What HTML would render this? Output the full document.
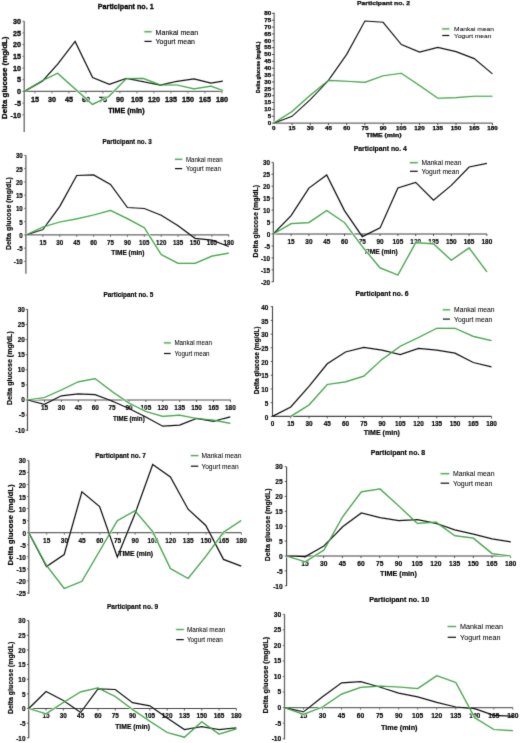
<!DOCTYPE html>
<html><head><meta charset="utf-8"><style>
html,body{margin:0;padding:0;background:#fff;width:520px;height:743px;overflow:hidden}
svg{display:block}
text{font-family:"Liberation Sans",sans-serif}
</style></head><body>
<svg width="520" height="743" viewBox="0 0 520 743">
<defs><filter id="bl" x="0" y="0" width="520" height="743" filterUnits="userSpaceOnUse"><feConvolveMatrix order="3" kernelMatrix="0.02 0.12 0.02 0.12 1 0.12 0.02 0.12 0.02" divisor="1.56" preserveAlpha="false" edgeMode="duplicate"/></filter></defs>
<rect width="520" height="743" fill="#fff"/>
<g filter="url(#bl)">
<text x="97.80" y="9.06" font-size="8" font-weight="bold" text-anchor="start" fill="#000000" stroke="#000000" stroke-width="0.32" textLength="55.90" lengthAdjust="spacingAndGlyphs">Participant no. 1</text>
<line x1="24.20" y1="21.30" x2="24.20" y2="132.00" stroke="#666666" stroke-width="1.3"/>
<line x1="22.40" y1="21.20" x2="24.20" y2="21.20" stroke="#666666" stroke-width="0.9"/>
<text x="21.00" y="23.96" font-size="8.0" font-weight="bold" text-anchor="end" fill="#000000" stroke="#000000" stroke-width="0.32" textLength="8.01" lengthAdjust="spacingAndGlyphs">30</text>
<line x1="22.40" y1="32.90" x2="24.20" y2="32.90" stroke="#666666" stroke-width="0.9"/>
<text x="21.00" y="35.66" font-size="8.0" font-weight="bold" text-anchor="end" fill="#000000" stroke="#000000" stroke-width="0.32" textLength="8.01" lengthAdjust="spacingAndGlyphs">25</text>
<line x1="22.40" y1="44.60" x2="24.20" y2="44.60" stroke="#666666" stroke-width="0.9"/>
<text x="21.00" y="47.36" font-size="8.0" font-weight="bold" text-anchor="end" fill="#000000" stroke="#000000" stroke-width="0.32" textLength="8.01" lengthAdjust="spacingAndGlyphs">20</text>
<line x1="22.40" y1="56.30" x2="24.20" y2="56.30" stroke="#666666" stroke-width="0.9"/>
<text x="21.00" y="59.06" font-size="8.0" font-weight="bold" text-anchor="end" fill="#000000" stroke="#000000" stroke-width="0.32" textLength="8.01" lengthAdjust="spacingAndGlyphs">15</text>
<line x1="22.40" y1="68.00" x2="24.20" y2="68.00" stroke="#666666" stroke-width="0.9"/>
<text x="21.00" y="70.76" font-size="8.0" font-weight="bold" text-anchor="end" fill="#000000" stroke="#000000" stroke-width="0.32" textLength="8.01" lengthAdjust="spacingAndGlyphs">10</text>
<line x1="22.40" y1="79.70" x2="24.20" y2="79.70" stroke="#666666" stroke-width="0.9"/>
<text x="21.00" y="82.46" font-size="8.0" font-weight="bold" text-anchor="end" fill="#000000" stroke="#000000" stroke-width="0.32" textLength="4.00" lengthAdjust="spacingAndGlyphs">5</text>
<line x1="22.40" y1="91.40" x2="24.20" y2="91.40" stroke="#666666" stroke-width="0.9"/>
<text x="21.00" y="94.16" font-size="8.0" font-weight="bold" text-anchor="end" fill="#000000" stroke="#000000" stroke-width="0.32" textLength="4.00" lengthAdjust="spacingAndGlyphs">0</text>
<line x1="22.40" y1="103.10" x2="24.20" y2="103.10" stroke="#666666" stroke-width="0.9"/>
<text x="21.00" y="105.86" font-size="8.0" font-weight="bold" text-anchor="end" fill="#000000" stroke="#000000" stroke-width="0.32" textLength="6.40" lengthAdjust="spacingAndGlyphs">-5</text>
<line x1="22.40" y1="114.80" x2="24.20" y2="114.80" stroke="#666666" stroke-width="0.9"/>
<text x="21.00" y="117.56" font-size="8.0" font-weight="bold" text-anchor="end" fill="#000000" stroke="#000000" stroke-width="0.32" textLength="10.41" lengthAdjust="spacingAndGlyphs">-10</text>
<line x1="24.20" y1="91.40" x2="222.80" y2="91.40" stroke="#666666" stroke-width="1.3"/>
<line x1="34.90" y1="91.40" x2="34.90" y2="93.40" stroke="#666666" stroke-width="0.9"/>
<text x="34.90" y="101.86" font-size="8.0" font-weight="bold" text-anchor="middle" fill="#000000" stroke="#000000" stroke-width="0.32" textLength="8.01" lengthAdjust="spacingAndGlyphs">15</text>
<line x1="51.90" y1="91.40" x2="51.90" y2="93.40" stroke="#666666" stroke-width="0.9"/>
<text x="51.90" y="101.86" font-size="8.0" font-weight="bold" text-anchor="middle" fill="#000000" stroke="#000000" stroke-width="0.32" textLength="8.01" lengthAdjust="spacingAndGlyphs">30</text>
<line x1="68.90" y1="91.40" x2="68.90" y2="93.40" stroke="#666666" stroke-width="0.9"/>
<text x="68.90" y="101.86" font-size="8.0" font-weight="bold" text-anchor="middle" fill="#000000" stroke="#000000" stroke-width="0.32" textLength="8.01" lengthAdjust="spacingAndGlyphs">45</text>
<line x1="85.90" y1="91.40" x2="85.90" y2="93.40" stroke="#666666" stroke-width="0.9"/>
<text x="85.90" y="101.86" font-size="8.0" font-weight="bold" text-anchor="middle" fill="#000000" stroke="#000000" stroke-width="0.32" textLength="8.01" lengthAdjust="spacingAndGlyphs">60</text>
<line x1="102.90" y1="91.40" x2="102.90" y2="93.40" stroke="#666666" stroke-width="0.9"/>
<text x="102.90" y="101.86" font-size="8.0" font-weight="bold" text-anchor="middle" fill="#000000" stroke="#000000" stroke-width="0.32" textLength="8.01" lengthAdjust="spacingAndGlyphs">75</text>
<line x1="119.90" y1="91.40" x2="119.90" y2="93.40" stroke="#666666" stroke-width="0.9"/>
<text x="119.90" y="101.86" font-size="8.0" font-weight="bold" text-anchor="middle" fill="#000000" stroke="#000000" stroke-width="0.32" textLength="8.01" lengthAdjust="spacingAndGlyphs">90</text>
<line x1="136.90" y1="91.40" x2="136.90" y2="93.40" stroke="#666666" stroke-width="0.9"/>
<text x="136.90" y="101.86" font-size="8.0" font-weight="bold" text-anchor="middle" fill="#000000" stroke="#000000" stroke-width="0.32" textLength="12.01" lengthAdjust="spacingAndGlyphs">105</text>
<line x1="153.90" y1="91.40" x2="153.90" y2="93.40" stroke="#666666" stroke-width="0.9"/>
<text x="153.90" y="101.86" font-size="8.0" font-weight="bold" text-anchor="middle" fill="#000000" stroke="#000000" stroke-width="0.32" textLength="12.01" lengthAdjust="spacingAndGlyphs">120</text>
<line x1="170.90" y1="91.40" x2="170.90" y2="93.40" stroke="#666666" stroke-width="0.9"/>
<text x="170.90" y="101.86" font-size="8.0" font-weight="bold" text-anchor="middle" fill="#000000" stroke="#000000" stroke-width="0.32" textLength="12.01" lengthAdjust="spacingAndGlyphs">135</text>
<line x1="187.90" y1="91.40" x2="187.90" y2="93.40" stroke="#666666" stroke-width="0.9"/>
<text x="187.90" y="101.86" font-size="8.0" font-weight="bold" text-anchor="middle" fill="#000000" stroke="#000000" stroke-width="0.32" textLength="12.01" lengthAdjust="spacingAndGlyphs">150</text>
<line x1="204.90" y1="91.40" x2="204.90" y2="93.40" stroke="#666666" stroke-width="0.9"/>
<text x="204.90" y="101.86" font-size="8.0" font-weight="bold" text-anchor="middle" fill="#000000" stroke="#000000" stroke-width="0.32" textLength="12.01" lengthAdjust="spacingAndGlyphs">165</text>
<line x1="221.90" y1="91.40" x2="221.90" y2="93.40" stroke="#666666" stroke-width="0.9"/>
<text x="221.90" y="101.86" font-size="8.0" font-weight="bold" text-anchor="middle" fill="#000000" stroke="#000000" stroke-width="0.32" textLength="12.01" lengthAdjust="spacingAndGlyphs">180</text>
<text x="108.20" y="112.62" font-size="7.6" font-weight="bold" text-anchor="start" fill="#000000" stroke="#000000" stroke-width="0.32" textLength="36.40" lengthAdjust="spacingAndGlyphs">TIME (min)</text>
<text transform="translate(6.80,77.75) rotate(-90)" x="0" y="0" font-size="8" font-weight="bold" text-anchor="middle" fill="#000000" stroke="#000000" stroke-width="0.32" textLength="82.30" lengthAdjust="spacingAndGlyphs">Delta glucose (mg/dL)</text>
<line x1="143.60" y1="31.75" x2="152.50" y2="31.75" stroke="#e6f7e6" stroke-width="3.2"/>
<line x1="144.40" y1="31.75" x2="151.70" y2="31.75" stroke="#38a040" stroke-width="1.2"/>
<line x1="144.40" y1="41.40" x2="151.70" y2="41.40" stroke="#111111" stroke-width="1.2"/>
<text x="155.60" y="34.54" font-size="8.1" font-weight="normal" text-anchor="start" fill="#000000" stroke="#000000" stroke-width="0.12" textLength="42.50" lengthAdjust="spacingAndGlyphs">Mankai mean</text>
<text x="155.60" y="44.19" font-size="8.1" font-weight="normal" text-anchor="start" fill="#000000" stroke="#000000" stroke-width="0.12" textLength="39.40" lengthAdjust="spacingAndGlyphs">Yogurt mean</text>
<polyline points="24.40,91.40 42.60,80.50 57.60,73.30 92.50,104.40 108.80,96.50 126.40,78.60 143.10,78.30 160.20,84.80 177.00,85.00 194.00,88.90 211.00,86.20 222.80,90.50" fill="none" stroke="#e6f7e6" stroke-width="2.4" stroke-linejoin="miter" stroke-miterlimit="3"/>
<polyline points="24.40,91.40 42.60,80.90 57.70,64.20 75.10,41.40 92.60,77.50 109.40,84.30 126.40,78.30 143.10,81.60 160.20,85.10 177.00,81.40 194.00,79.00 211.00,83.10 222.80,81.20" fill="none" stroke="#111111" stroke-width="1.25" stroke-linejoin="miter" stroke-miterlimit="3"/>
<polyline points="24.40,91.40 42.60,80.50 57.60,73.30 92.50,104.40 108.80,96.50 126.40,78.60 143.10,78.30 160.20,84.80 177.00,85.00 194.00,88.90 211.00,86.20 222.80,90.50" fill="none" stroke="#38a040" stroke-width="1.25" stroke-linejoin="miter" stroke-miterlimit="3"/>
<text x="357.00" y="5.37" font-size="6" font-weight="bold" text-anchor="start" fill="#000000" stroke="#000000" stroke-width="0.25" textLength="53.00" lengthAdjust="spacingAndGlyphs">Participant no. 2</text>
<line x1="274.10" y1="12.70" x2="274.10" y2="123.10" stroke="#333333" stroke-width="0.9"/>
<line x1="272.10" y1="13.34" x2="274.10" y2="13.34" stroke="#333333" stroke-width="0.9"/>
<text x="271.20" y="15.13" font-size="5.2" font-weight="bold" text-anchor="end" fill="#000000" stroke="#000000" stroke-width="0.25" textLength="6.94" lengthAdjust="spacingAndGlyphs">80</text>
<line x1="272.10" y1="20.20" x2="274.10" y2="20.20" stroke="#333333" stroke-width="0.9"/>
<text x="271.20" y="21.99" font-size="5.2" font-weight="bold" text-anchor="end" fill="#000000" stroke="#000000" stroke-width="0.25" textLength="6.94" lengthAdjust="spacingAndGlyphs">75</text>
<line x1="272.10" y1="27.06" x2="274.10" y2="27.06" stroke="#333333" stroke-width="0.9"/>
<text x="271.20" y="28.85" font-size="5.2" font-weight="bold" text-anchor="end" fill="#000000" stroke="#000000" stroke-width="0.25" textLength="6.94" lengthAdjust="spacingAndGlyphs">70</text>
<line x1="272.10" y1="33.92" x2="274.10" y2="33.92" stroke="#333333" stroke-width="0.9"/>
<text x="271.20" y="35.71" font-size="5.2" font-weight="bold" text-anchor="end" fill="#000000" stroke="#000000" stroke-width="0.25" textLength="6.94" lengthAdjust="spacingAndGlyphs">65</text>
<line x1="272.10" y1="40.78" x2="274.10" y2="40.78" stroke="#333333" stroke-width="0.9"/>
<text x="271.20" y="42.57" font-size="5.2" font-weight="bold" text-anchor="end" fill="#000000" stroke="#000000" stroke-width="0.25" textLength="6.94" lengthAdjust="spacingAndGlyphs">60</text>
<line x1="272.10" y1="47.64" x2="274.10" y2="47.64" stroke="#333333" stroke-width="0.9"/>
<text x="271.20" y="49.43" font-size="5.2" font-weight="bold" text-anchor="end" fill="#000000" stroke="#000000" stroke-width="0.25" textLength="6.94" lengthAdjust="spacingAndGlyphs">55</text>
<line x1="272.10" y1="54.50" x2="274.10" y2="54.50" stroke="#333333" stroke-width="0.9"/>
<text x="271.20" y="56.29" font-size="5.2" font-weight="bold" text-anchor="end" fill="#000000" stroke="#000000" stroke-width="0.25" textLength="6.94" lengthAdjust="spacingAndGlyphs">50</text>
<line x1="272.10" y1="61.36" x2="274.10" y2="61.36" stroke="#333333" stroke-width="0.9"/>
<text x="271.20" y="63.15" font-size="5.2" font-weight="bold" text-anchor="end" fill="#000000" stroke="#000000" stroke-width="0.25" textLength="6.94" lengthAdjust="spacingAndGlyphs">45</text>
<line x1="272.10" y1="68.22" x2="274.10" y2="68.22" stroke="#333333" stroke-width="0.9"/>
<text x="271.20" y="70.01" font-size="5.2" font-weight="bold" text-anchor="end" fill="#000000" stroke="#000000" stroke-width="0.25" textLength="6.94" lengthAdjust="spacingAndGlyphs">40</text>
<line x1="272.10" y1="75.08" x2="274.10" y2="75.08" stroke="#333333" stroke-width="0.9"/>
<text x="271.20" y="76.87" font-size="5.2" font-weight="bold" text-anchor="end" fill="#000000" stroke="#000000" stroke-width="0.25" textLength="6.94" lengthAdjust="spacingAndGlyphs">35</text>
<line x1="272.10" y1="81.94" x2="274.10" y2="81.94" stroke="#333333" stroke-width="0.9"/>
<text x="271.20" y="83.73" font-size="5.2" font-weight="bold" text-anchor="end" fill="#000000" stroke="#000000" stroke-width="0.25" textLength="6.94" lengthAdjust="spacingAndGlyphs">30</text>
<line x1="272.10" y1="88.80" x2="274.10" y2="88.80" stroke="#333333" stroke-width="0.9"/>
<text x="271.20" y="90.59" font-size="5.2" font-weight="bold" text-anchor="end" fill="#000000" stroke="#000000" stroke-width="0.25" textLength="6.94" lengthAdjust="spacingAndGlyphs">25</text>
<line x1="272.10" y1="95.66" x2="274.10" y2="95.66" stroke="#333333" stroke-width="0.9"/>
<text x="271.20" y="97.45" font-size="5.2" font-weight="bold" text-anchor="end" fill="#000000" stroke="#000000" stroke-width="0.25" textLength="6.94" lengthAdjust="spacingAndGlyphs">20</text>
<line x1="272.10" y1="102.52" x2="274.10" y2="102.52" stroke="#333333" stroke-width="0.9"/>
<text x="271.20" y="104.31" font-size="5.2" font-weight="bold" text-anchor="end" fill="#000000" stroke="#000000" stroke-width="0.25" textLength="6.94" lengthAdjust="spacingAndGlyphs">15</text>
<line x1="272.10" y1="109.38" x2="274.10" y2="109.38" stroke="#333333" stroke-width="0.9"/>
<text x="271.20" y="111.17" font-size="5.2" font-weight="bold" text-anchor="end" fill="#000000" stroke="#000000" stroke-width="0.25" textLength="6.94" lengthAdjust="spacingAndGlyphs">10</text>
<line x1="272.10" y1="116.24" x2="274.10" y2="116.24" stroke="#333333" stroke-width="0.9"/>
<text x="271.20" y="118.03" font-size="5.2" font-weight="bold" text-anchor="end" fill="#000000" stroke="#000000" stroke-width="0.25" textLength="3.47" lengthAdjust="spacingAndGlyphs">5</text>
<line x1="272.10" y1="123.10" x2="274.10" y2="123.10" stroke="#333333" stroke-width="0.9"/>
<text x="271.20" y="124.89" font-size="5.2" font-weight="bold" text-anchor="end" fill="#000000" stroke="#000000" stroke-width="0.25" textLength="3.47" lengthAdjust="spacingAndGlyphs">0</text>
<line x1="274.10" y1="123.10" x2="492.50" y2="123.10" stroke="#333333" stroke-width="0.9"/>
<text x="273.80" y="129.79" font-size="5.2" font-weight="bold" text-anchor="middle" fill="#000000" stroke="#000000" stroke-width="0.25" textLength="3.47" lengthAdjust="spacingAndGlyphs">0</text>
<line x1="292.02" y1="123.10" x2="292.02" y2="125.10" stroke="#333333" stroke-width="0.9"/>
<text x="292.02" y="129.79" font-size="5.2" font-weight="bold" text-anchor="middle" fill="#000000" stroke="#000000" stroke-width="0.25" textLength="6.94" lengthAdjust="spacingAndGlyphs">15</text>
<line x1="310.24" y1="123.10" x2="310.24" y2="125.10" stroke="#333333" stroke-width="0.9"/>
<text x="310.24" y="129.79" font-size="5.2" font-weight="bold" text-anchor="middle" fill="#000000" stroke="#000000" stroke-width="0.25" textLength="6.94" lengthAdjust="spacingAndGlyphs">30</text>
<line x1="328.46" y1="123.10" x2="328.46" y2="125.10" stroke="#333333" stroke-width="0.9"/>
<text x="328.46" y="129.79" font-size="5.2" font-weight="bold" text-anchor="middle" fill="#000000" stroke="#000000" stroke-width="0.25" textLength="6.94" lengthAdjust="spacingAndGlyphs">45</text>
<line x1="346.68" y1="123.10" x2="346.68" y2="125.10" stroke="#333333" stroke-width="0.9"/>
<text x="346.68" y="129.79" font-size="5.2" font-weight="bold" text-anchor="middle" fill="#000000" stroke="#000000" stroke-width="0.25" textLength="6.94" lengthAdjust="spacingAndGlyphs">60</text>
<line x1="364.90" y1="123.10" x2="364.90" y2="125.10" stroke="#333333" stroke-width="0.9"/>
<text x="364.90" y="129.79" font-size="5.2" font-weight="bold" text-anchor="middle" fill="#000000" stroke="#000000" stroke-width="0.25" textLength="6.94" lengthAdjust="spacingAndGlyphs">75</text>
<line x1="383.12" y1="123.10" x2="383.12" y2="125.10" stroke="#333333" stroke-width="0.9"/>
<text x="383.12" y="129.79" font-size="5.2" font-weight="bold" text-anchor="middle" fill="#000000" stroke="#000000" stroke-width="0.25" textLength="6.94" lengthAdjust="spacingAndGlyphs">90</text>
<line x1="401.34" y1="123.10" x2="401.34" y2="125.10" stroke="#333333" stroke-width="0.9"/>
<text x="401.34" y="129.79" font-size="5.2" font-weight="bold" text-anchor="middle" fill="#000000" stroke="#000000" stroke-width="0.25" textLength="10.41" lengthAdjust="spacingAndGlyphs">105</text>
<line x1="419.56" y1="123.10" x2="419.56" y2="125.10" stroke="#333333" stroke-width="0.9"/>
<text x="419.56" y="129.79" font-size="5.2" font-weight="bold" text-anchor="middle" fill="#000000" stroke="#000000" stroke-width="0.25" textLength="10.41" lengthAdjust="spacingAndGlyphs">120</text>
<line x1="437.78" y1="123.10" x2="437.78" y2="125.10" stroke="#333333" stroke-width="0.9"/>
<text x="437.78" y="129.79" font-size="5.2" font-weight="bold" text-anchor="middle" fill="#000000" stroke="#000000" stroke-width="0.25" textLength="10.41" lengthAdjust="spacingAndGlyphs">135</text>
<line x1="456.00" y1="123.10" x2="456.00" y2="125.10" stroke="#333333" stroke-width="0.9"/>
<text x="456.00" y="129.79" font-size="5.2" font-weight="bold" text-anchor="middle" fill="#000000" stroke="#000000" stroke-width="0.25" textLength="10.41" lengthAdjust="spacingAndGlyphs">150</text>
<line x1="474.22" y1="123.10" x2="474.22" y2="125.10" stroke="#333333" stroke-width="0.9"/>
<text x="474.22" y="129.79" font-size="5.2" font-weight="bold" text-anchor="middle" fill="#000000" stroke="#000000" stroke-width="0.25" textLength="10.41" lengthAdjust="spacingAndGlyphs">165</text>
<line x1="492.44" y1="123.10" x2="492.44" y2="125.10" stroke="#333333" stroke-width="0.9"/>
<text x="492.44" y="129.79" font-size="5.2" font-weight="bold" text-anchor="middle" fill="#000000" stroke="#000000" stroke-width="0.25" textLength="10.41" lengthAdjust="spacingAndGlyphs">180</text>
<text x="366.00" y="136.59" font-size="5.2" font-weight="bold" text-anchor="start" fill="#000000" stroke="#000000" stroke-width="0.25" textLength="35.50" lengthAdjust="spacingAndGlyphs">TIME (min)</text>
<text transform="translate(259.80,67.20) rotate(-90)" x="0" y="0" font-size="5.5" font-weight="bold" text-anchor="middle" fill="#000000" stroke="#000000" stroke-width="0.25" textLength="51.40" lengthAdjust="spacingAndGlyphs">Delta glucose (mg/dL)</text>
<line x1="441.40" y1="28.90" x2="450.10" y2="28.90" stroke="#e6f7e6" stroke-width="3.2"/>
<line x1="442.20" y1="28.90" x2="449.30" y2="28.90" stroke="#38a040" stroke-width="1.2"/>
<line x1="442.20" y1="35.50" x2="449.30" y2="35.50" stroke="#111111" stroke-width="1.2"/>
<text x="454.10" y="30.90" font-size="5.8" font-weight="normal" text-anchor="start" fill="#000000" stroke="#000000" stroke-width="0.05" textLength="39.90" lengthAdjust="spacingAndGlyphs">Mankai mean</text>
<text x="454.10" y="37.50" font-size="5.8" font-weight="normal" text-anchor="start" fill="#000000" stroke="#000000" stroke-width="0.05" textLength="37.30" lengthAdjust="spacingAndGlyphs">Yogurt mean</text>
<polyline points="273.80,123.10 292.02,111.50 310.24,95.20 328.46,80.40 346.68,81.20 364.90,82.30 383.12,75.80 401.34,73.30 419.56,85.50 437.78,98.20 456.00,97.60 474.22,96.20 492.44,96.20" fill="none" stroke="#e6f7e6" stroke-width="2.4" stroke-linejoin="miter" stroke-miterlimit="3"/>
<polyline points="273.80,123.10 292.02,116.30 310.24,99.60 328.46,80.40 346.68,54.40 364.90,21.00 383.12,22.30 401.34,44.60 419.56,52.10 437.78,47.40 456.00,51.60 474.22,58.60 492.44,73.90" fill="none" stroke="#111111" stroke-width="1.15" stroke-linejoin="miter" stroke-miterlimit="3"/>
<polyline points="273.80,123.10 292.02,111.50 310.24,95.20 328.46,80.40 346.68,81.20 364.90,82.30 383.12,75.80 401.34,73.30 419.56,85.50 437.78,98.20 456.00,97.60 474.22,96.20 492.44,96.20" fill="none" stroke="#38a040" stroke-width="1.15" stroke-linejoin="miter" stroke-miterlimit="3"/>
<text x="102.50" y="144.22" font-size="7" font-weight="bold" text-anchor="start" fill="#000000" stroke="#000000" stroke-width="0.18" textLength="49.20" lengthAdjust="spacingAndGlyphs">Participant no. 3</text>
<line x1="25.90" y1="155.20" x2="25.90" y2="273.75" stroke="#666666" stroke-width="1.3"/>
<line x1="24.10" y1="155.40" x2="25.90" y2="155.40" stroke="#666666" stroke-width="0.9"/>
<text x="22.80" y="158.28" font-size="6.9" font-weight="bold" text-anchor="end" fill="#000000" stroke="#000000" stroke-width="0.18" textLength="6.91" lengthAdjust="spacingAndGlyphs">30</text>
<line x1="24.10" y1="168.65" x2="25.90" y2="168.65" stroke="#666666" stroke-width="0.9"/>
<text x="22.80" y="171.53" font-size="6.9" font-weight="bold" text-anchor="end" fill="#000000" stroke="#000000" stroke-width="0.18" textLength="6.91" lengthAdjust="spacingAndGlyphs">25</text>
<line x1="24.10" y1="181.90" x2="25.90" y2="181.90" stroke="#666666" stroke-width="0.9"/>
<text x="22.80" y="184.78" font-size="6.9" font-weight="bold" text-anchor="end" fill="#000000" stroke="#000000" stroke-width="0.18" textLength="6.91" lengthAdjust="spacingAndGlyphs">20</text>
<line x1="24.10" y1="195.15" x2="25.90" y2="195.15" stroke="#666666" stroke-width="0.9"/>
<text x="22.80" y="198.03" font-size="6.9" font-weight="bold" text-anchor="end" fill="#000000" stroke="#000000" stroke-width="0.18" textLength="6.91" lengthAdjust="spacingAndGlyphs">15</text>
<line x1="24.10" y1="208.40" x2="25.90" y2="208.40" stroke="#666666" stroke-width="0.9"/>
<text x="22.80" y="211.28" font-size="6.9" font-weight="bold" text-anchor="end" fill="#000000" stroke="#000000" stroke-width="0.18" textLength="6.91" lengthAdjust="spacingAndGlyphs">10</text>
<line x1="24.10" y1="221.65" x2="25.90" y2="221.65" stroke="#666666" stroke-width="0.9"/>
<text x="22.80" y="224.53" font-size="6.9" font-weight="bold" text-anchor="end" fill="#000000" stroke="#000000" stroke-width="0.18" textLength="3.45" lengthAdjust="spacingAndGlyphs">5</text>
<line x1="24.10" y1="234.90" x2="25.90" y2="234.90" stroke="#666666" stroke-width="0.9"/>
<text x="22.80" y="237.78" font-size="6.9" font-weight="bold" text-anchor="end" fill="#000000" stroke="#000000" stroke-width="0.18" textLength="3.45" lengthAdjust="spacingAndGlyphs">0</text>
<line x1="24.10" y1="248.15" x2="25.90" y2="248.15" stroke="#666666" stroke-width="0.9"/>
<text x="22.80" y="251.03" font-size="6.9" font-weight="bold" text-anchor="end" fill="#000000" stroke="#000000" stroke-width="0.18" textLength="5.52" lengthAdjust="spacingAndGlyphs">-5</text>
<line x1="24.10" y1="261.40" x2="25.90" y2="261.40" stroke="#666666" stroke-width="0.9"/>
<text x="22.80" y="264.28" font-size="6.9" font-weight="bold" text-anchor="end" fill="#000000" stroke="#000000" stroke-width="0.18" textLength="8.97" lengthAdjust="spacingAndGlyphs">-10</text>
<line x1="25.90" y1="234.90" x2="229.00" y2="234.90" stroke="#666666" stroke-width="1.3"/>
<line x1="42.90" y1="234.90" x2="42.90" y2="236.90" stroke="#666666" stroke-width="0.9"/>
<text x="42.90" y="244.58" font-size="6.9" font-weight="bold" text-anchor="middle" fill="#000000" stroke="#000000" stroke-width="0.18" textLength="6.91" lengthAdjust="spacingAndGlyphs">15</text>
<line x1="59.80" y1="234.90" x2="59.80" y2="236.90" stroke="#666666" stroke-width="0.9"/>
<text x="59.80" y="244.58" font-size="6.9" font-weight="bold" text-anchor="middle" fill="#000000" stroke="#000000" stroke-width="0.18" textLength="6.91" lengthAdjust="spacingAndGlyphs">30</text>
<line x1="76.70" y1="234.90" x2="76.70" y2="236.90" stroke="#666666" stroke-width="0.9"/>
<text x="76.70" y="244.58" font-size="6.9" font-weight="bold" text-anchor="middle" fill="#000000" stroke="#000000" stroke-width="0.18" textLength="6.91" lengthAdjust="spacingAndGlyphs">45</text>
<line x1="93.60" y1="234.90" x2="93.60" y2="236.90" stroke="#666666" stroke-width="0.9"/>
<text x="93.60" y="244.58" font-size="6.9" font-weight="bold" text-anchor="middle" fill="#000000" stroke="#000000" stroke-width="0.18" textLength="6.91" lengthAdjust="spacingAndGlyphs">60</text>
<line x1="110.50" y1="234.90" x2="110.50" y2="236.90" stroke="#666666" stroke-width="0.9"/>
<text x="110.50" y="244.58" font-size="6.9" font-weight="bold" text-anchor="middle" fill="#000000" stroke="#000000" stroke-width="0.18" textLength="6.91" lengthAdjust="spacingAndGlyphs">75</text>
<line x1="127.40" y1="234.90" x2="127.40" y2="236.90" stroke="#666666" stroke-width="0.9"/>
<text x="127.40" y="244.58" font-size="6.9" font-weight="bold" text-anchor="middle" fill="#000000" stroke="#000000" stroke-width="0.18" textLength="6.91" lengthAdjust="spacingAndGlyphs">90</text>
<line x1="144.30" y1="234.90" x2="144.30" y2="236.90" stroke="#666666" stroke-width="0.9"/>
<text x="144.30" y="244.58" font-size="6.9" font-weight="bold" text-anchor="middle" fill="#000000" stroke="#000000" stroke-width="0.18" textLength="10.36" lengthAdjust="spacingAndGlyphs">105</text>
<line x1="161.20" y1="234.90" x2="161.20" y2="236.90" stroke="#666666" stroke-width="0.9"/>
<text x="161.20" y="244.58" font-size="6.9" font-weight="bold" text-anchor="middle" fill="#000000" stroke="#000000" stroke-width="0.18" textLength="10.36" lengthAdjust="spacingAndGlyphs">120</text>
<line x1="178.10" y1="234.90" x2="178.10" y2="236.90" stroke="#666666" stroke-width="0.9"/>
<text x="178.10" y="244.58" font-size="6.9" font-weight="bold" text-anchor="middle" fill="#000000" stroke="#000000" stroke-width="0.18" textLength="10.36" lengthAdjust="spacingAndGlyphs">135</text>
<line x1="195.00" y1="234.90" x2="195.00" y2="236.90" stroke="#666666" stroke-width="0.9"/>
<text x="195.00" y="244.58" font-size="6.9" font-weight="bold" text-anchor="middle" fill="#000000" stroke="#000000" stroke-width="0.18" textLength="10.36" lengthAdjust="spacingAndGlyphs">150</text>
<line x1="211.90" y1="234.90" x2="211.90" y2="236.90" stroke="#666666" stroke-width="0.9"/>
<text x="211.90" y="244.58" font-size="6.9" font-weight="bold" text-anchor="middle" fill="#000000" stroke="#000000" stroke-width="0.18" textLength="10.36" lengthAdjust="spacingAndGlyphs">165</text>
<line x1="228.80" y1="234.90" x2="228.80" y2="236.90" stroke="#666666" stroke-width="0.9"/>
<text x="228.80" y="244.58" font-size="6.9" font-weight="bold" text-anchor="middle" fill="#000000" stroke="#000000" stroke-width="0.18" textLength="10.36" lengthAdjust="spacingAndGlyphs">180</text>
<text x="111.30" y="255.11" font-size="7" font-weight="bold" text-anchor="start" fill="#000000" stroke="#000000" stroke-width="0.18" textLength="33.20" lengthAdjust="spacingAndGlyphs">TIME (min)</text>
<text transform="translate(11.45,213.60) rotate(-90)" x="0" y="0" font-size="6.95" font-weight="bold" text-anchor="middle" fill="#000000" stroke="#000000" stroke-width="0.18" textLength="73.00" lengthAdjust="spacingAndGlyphs">Delta glucose (mg/dL)</text>
<line x1="174.20" y1="159.30" x2="183.00" y2="159.30" stroke="#e6f7e6" stroke-width="3.2"/>
<line x1="175.00" y1="159.30" x2="182.20" y2="159.30" stroke="#38a040" stroke-width="1.2"/>
<line x1="175.00" y1="168.60" x2="182.20" y2="168.60" stroke="#111111" stroke-width="1.2"/>
<text x="185.90" y="161.78" font-size="7.2" font-weight="normal" text-anchor="start" fill="#000000" stroke="#000000" stroke-width="0.05" textLength="36.70" lengthAdjust="spacingAndGlyphs">Mankai mean</text>
<text x="185.90" y="171.08" font-size="7.2" font-weight="normal" text-anchor="start" fill="#000000" stroke="#000000" stroke-width="0.05" textLength="35.10" lengthAdjust="spacingAndGlyphs">Yogurt mean</text>
<polyline points="26.00,235.00 42.90,227.00 59.80,222.00 76.70,218.80 93.60,215.00 110.50,210.50 127.40,218.60 144.30,227.70 161.20,254.60 178.10,263.40 195.00,263.40 211.90,256.20 228.80,253.10" fill="none" stroke="#e6f7e6" stroke-width="2.4" stroke-linejoin="miter" stroke-miterlimit="3"/>
<polyline points="26.00,235.00 42.90,229.50 59.80,206.30 76.70,175.50 93.60,175.00 110.50,184.50 127.40,207.50 144.30,208.50 161.20,215.20 178.10,225.80 195.00,238.30 211.90,240.20 228.80,246.50" fill="none" stroke="#111111" stroke-width="1.25" stroke-linejoin="miter" stroke-miterlimit="3"/>
<polyline points="26.00,235.00 42.90,227.00 59.80,222.00 76.70,218.80 93.60,215.00 110.50,210.50 127.40,218.60 144.30,227.70 161.20,254.60 178.10,263.40 195.00,263.40 211.90,256.20 228.80,253.10" fill="none" stroke="#38a040" stroke-width="1.25" stroke-linejoin="miter" stroke-miterlimit="3"/>
<text x="353.70" y="151.22" font-size="7" font-weight="bold" text-anchor="start" fill="#000000" stroke="#000000" stroke-width="0.18" textLength="53.20" lengthAdjust="spacingAndGlyphs">Participant no. 4</text>
<line x1="273.30" y1="162.50" x2="273.30" y2="282.00" stroke="#444444" stroke-width="1.1"/>
<line x1="271.50" y1="162.30" x2="273.30" y2="162.30" stroke="#444444" stroke-width="0.9"/>
<text x="270.20" y="165.08" font-size="6.9" font-weight="bold" text-anchor="end" fill="#000000" stroke="#000000" stroke-width="0.18" textLength="7.14" lengthAdjust="spacingAndGlyphs">30</text>
<line x1="271.50" y1="174.25" x2="273.30" y2="174.25" stroke="#444444" stroke-width="0.9"/>
<text x="270.20" y="177.03" font-size="6.9" font-weight="bold" text-anchor="end" fill="#000000" stroke="#000000" stroke-width="0.18" textLength="7.14" lengthAdjust="spacingAndGlyphs">25</text>
<line x1="271.50" y1="186.20" x2="273.30" y2="186.20" stroke="#444444" stroke-width="0.9"/>
<text x="270.20" y="188.98" font-size="6.9" font-weight="bold" text-anchor="end" fill="#000000" stroke="#000000" stroke-width="0.18" textLength="7.14" lengthAdjust="spacingAndGlyphs">20</text>
<line x1="271.50" y1="198.15" x2="273.30" y2="198.15" stroke="#444444" stroke-width="0.9"/>
<text x="270.20" y="200.93" font-size="6.9" font-weight="bold" text-anchor="end" fill="#000000" stroke="#000000" stroke-width="0.18" textLength="7.14" lengthAdjust="spacingAndGlyphs">15</text>
<line x1="271.50" y1="210.10" x2="273.30" y2="210.10" stroke="#444444" stroke-width="0.9"/>
<text x="270.20" y="212.88" font-size="6.9" font-weight="bold" text-anchor="end" fill="#000000" stroke="#000000" stroke-width="0.18" textLength="7.14" lengthAdjust="spacingAndGlyphs">10</text>
<line x1="271.50" y1="222.05" x2="273.30" y2="222.05" stroke="#444444" stroke-width="0.9"/>
<text x="270.20" y="224.83" font-size="6.9" font-weight="bold" text-anchor="end" fill="#000000" stroke="#000000" stroke-width="0.18" textLength="3.57" lengthAdjust="spacingAndGlyphs">5</text>
<line x1="271.50" y1="234.00" x2="273.30" y2="234.00" stroke="#444444" stroke-width="0.9"/>
<text x="270.20" y="236.78" font-size="6.9" font-weight="bold" text-anchor="end" fill="#000000" stroke="#000000" stroke-width="0.18" textLength="3.57" lengthAdjust="spacingAndGlyphs">0</text>
<line x1="271.50" y1="245.95" x2="273.30" y2="245.95" stroke="#444444" stroke-width="0.9"/>
<text x="270.20" y="248.73" font-size="6.9" font-weight="bold" text-anchor="end" fill="#000000" stroke="#000000" stroke-width="0.18" textLength="5.71" lengthAdjust="spacingAndGlyphs">-5</text>
<line x1="271.50" y1="257.90" x2="273.30" y2="257.90" stroke="#444444" stroke-width="0.9"/>
<text x="270.20" y="260.68" font-size="6.9" font-weight="bold" text-anchor="end" fill="#000000" stroke="#000000" stroke-width="0.18" textLength="9.27" lengthAdjust="spacingAndGlyphs">-10</text>
<line x1="271.50" y1="269.85" x2="273.30" y2="269.85" stroke="#444444" stroke-width="0.9"/>
<text x="270.20" y="272.63" font-size="6.9" font-weight="bold" text-anchor="end" fill="#000000" stroke="#000000" stroke-width="0.18" textLength="9.27" lengthAdjust="spacingAndGlyphs">-15</text>
<line x1="271.50" y1="281.80" x2="273.30" y2="281.80" stroke="#444444" stroke-width="0.9"/>
<text x="270.20" y="284.58" font-size="6.9" font-weight="bold" text-anchor="end" fill="#000000" stroke="#000000" stroke-width="0.18" textLength="9.27" lengthAdjust="spacingAndGlyphs">-20</text>
<line x1="273.30" y1="234.00" x2="487.00" y2="234.00" stroke="#444444" stroke-width="1.1"/>
<line x1="291.10" y1="234.00" x2="291.10" y2="236.00" stroke="#444444" stroke-width="0.9"/>
<text x="291.10" y="243.98" font-size="6.9" font-weight="bold" text-anchor="middle" fill="#000000" stroke="#000000" stroke-width="0.18" textLength="7.14" lengthAdjust="spacingAndGlyphs">15</text>
<line x1="308.90" y1="234.00" x2="308.90" y2="236.00" stroke="#444444" stroke-width="0.9"/>
<text x="308.90" y="243.98" font-size="6.9" font-weight="bold" text-anchor="middle" fill="#000000" stroke="#000000" stroke-width="0.18" textLength="7.14" lengthAdjust="spacingAndGlyphs">30</text>
<line x1="326.70" y1="234.00" x2="326.70" y2="236.00" stroke="#444444" stroke-width="0.9"/>
<text x="326.70" y="243.98" font-size="6.9" font-weight="bold" text-anchor="middle" fill="#000000" stroke="#000000" stroke-width="0.18" textLength="7.14" lengthAdjust="spacingAndGlyphs">45</text>
<line x1="344.50" y1="234.00" x2="344.50" y2="236.00" stroke="#444444" stroke-width="0.9"/>
<text x="344.50" y="243.98" font-size="6.9" font-weight="bold" text-anchor="middle" fill="#000000" stroke="#000000" stroke-width="0.18" textLength="7.14" lengthAdjust="spacingAndGlyphs">60</text>
<line x1="362.30" y1="234.00" x2="362.30" y2="236.00" stroke="#444444" stroke-width="0.9"/>
<text x="362.30" y="243.98" font-size="6.9" font-weight="bold" text-anchor="middle" fill="#000000" stroke="#000000" stroke-width="0.18" textLength="7.14" lengthAdjust="spacingAndGlyphs">75</text>
<line x1="380.10" y1="234.00" x2="380.10" y2="236.00" stroke="#444444" stroke-width="0.9"/>
<text x="380.10" y="243.98" font-size="6.9" font-weight="bold" text-anchor="middle" fill="#000000" stroke="#000000" stroke-width="0.18" textLength="7.14" lengthAdjust="spacingAndGlyphs">90</text>
<line x1="397.90" y1="234.00" x2="397.90" y2="236.00" stroke="#444444" stroke-width="0.9"/>
<text x="397.90" y="243.98" font-size="6.9" font-weight="bold" text-anchor="middle" fill="#000000" stroke="#000000" stroke-width="0.18" textLength="10.71" lengthAdjust="spacingAndGlyphs">105</text>
<line x1="415.70" y1="234.00" x2="415.70" y2="236.00" stroke="#444444" stroke-width="0.9"/>
<text x="415.70" y="243.98" font-size="6.9" font-weight="bold" text-anchor="middle" fill="#000000" stroke="#000000" stroke-width="0.18" textLength="10.71" lengthAdjust="spacingAndGlyphs">120</text>
<line x1="433.50" y1="234.00" x2="433.50" y2="236.00" stroke="#444444" stroke-width="0.9"/>
<text x="433.50" y="243.98" font-size="6.9" font-weight="bold" text-anchor="middle" fill="#000000" stroke="#000000" stroke-width="0.18" textLength="10.71" lengthAdjust="spacingAndGlyphs">135</text>
<line x1="451.30" y1="234.00" x2="451.30" y2="236.00" stroke="#444444" stroke-width="0.9"/>
<text x="451.30" y="243.98" font-size="6.9" font-weight="bold" text-anchor="middle" fill="#000000" stroke="#000000" stroke-width="0.18" textLength="10.71" lengthAdjust="spacingAndGlyphs">150</text>
<line x1="469.10" y1="234.00" x2="469.10" y2="236.00" stroke="#444444" stroke-width="0.9"/>
<text x="469.10" y="243.98" font-size="6.9" font-weight="bold" text-anchor="middle" fill="#000000" stroke="#000000" stroke-width="0.18" textLength="10.71" lengthAdjust="spacingAndGlyphs">165</text>
<line x1="486.90" y1="234.00" x2="486.90" y2="236.00" stroke="#444444" stroke-width="0.9"/>
<text x="486.90" y="243.98" font-size="6.9" font-weight="bold" text-anchor="middle" fill="#000000" stroke="#000000" stroke-width="0.18" textLength="10.71" lengthAdjust="spacingAndGlyphs">180</text>
<text x="363.80" y="254.31" font-size="7" font-weight="bold" text-anchor="start" fill="#000000" stroke="#000000" stroke-width="0.18" textLength="33.90" lengthAdjust="spacingAndGlyphs">TIME (min)</text>
<text transform="translate(257.55,221.15) rotate(-90)" x="0" y="0" font-size="6.85" font-weight="bold" text-anchor="middle" fill="#000000" stroke="#000000" stroke-width="0.18" textLength="72.70" lengthAdjust="spacingAndGlyphs">Delta glucose (mg/dL)</text>
<line x1="409.20" y1="162.70" x2="418.50" y2="162.70" stroke="#e6f7e6" stroke-width="3.2"/>
<line x1="410.00" y1="162.70" x2="417.70" y2="162.70" stroke="#38a040" stroke-width="1.2"/>
<line x1="410.00" y1="171.30" x2="417.70" y2="171.30" stroke="#111111" stroke-width="1.2"/>
<text x="421.40" y="165.11" font-size="7" font-weight="normal" text-anchor="start" fill="#000000" stroke="#000000" stroke-width="0.05" textLength="40.00" lengthAdjust="spacingAndGlyphs">Mankai mean</text>
<text x="421.40" y="173.72" font-size="7" font-weight="normal" text-anchor="start" fill="#000000" stroke="#000000" stroke-width="0.05" textLength="37.80" lengthAdjust="spacingAndGlyphs">Yogurt mean</text>
<polyline points="273.30,234.00 291.10,223.60 308.90,222.60 326.70,210.60 344.50,222.60 362.30,246.60 380.10,267.90 397.90,275.00 415.70,242.70 433.50,243.90 451.30,260.20 469.10,247.90 486.90,271.90" fill="none" stroke="#e6f7e6" stroke-width="2.4" stroke-linejoin="miter" stroke-miterlimit="3"/>
<polyline points="273.30,234.00 291.10,215.60 308.90,188.10 326.70,174.90 344.50,210.60 362.30,236.60 380.10,227.90 397.90,187.90 415.70,182.40 433.50,200.20 451.30,185.40 469.10,167.00 486.90,163.30" fill="none" stroke="#111111" stroke-width="1.25" stroke-linejoin="miter" stroke-miterlimit="3"/>
<polyline points="273.30,234.00 291.10,223.60 308.90,222.60 326.70,210.60 344.50,222.60 362.30,246.60 380.10,267.90 397.90,275.00 415.70,242.70 433.50,243.90 451.30,260.20 469.10,247.90 486.90,271.90" fill="none" stroke="#38a040" stroke-width="1.25" stroke-linejoin="miter" stroke-miterlimit="3"/>
<text x="103.50" y="296.81" font-size="7" font-weight="bold" text-anchor="start" fill="#000000" stroke="#000000" stroke-width="0.18" textLength="49.90" lengthAdjust="spacingAndGlyphs">Participant no. 5</text>
<line x1="27.50" y1="309.25" x2="27.50" y2="431.00" stroke="#505050" stroke-width="1.2"/>
<line x1="25.70" y1="309.40" x2="27.50" y2="309.40" stroke="#505050" stroke-width="0.9"/>
<text x="24.80" y="311.78" font-size="6.9" font-weight="bold" text-anchor="end" fill="#000000" stroke="#000000" stroke-width="0.18" textLength="7.14" lengthAdjust="spacingAndGlyphs">30</text>
<line x1="25.70" y1="324.50" x2="27.50" y2="324.50" stroke="#505050" stroke-width="0.9"/>
<text x="24.80" y="326.88" font-size="6.9" font-weight="bold" text-anchor="end" fill="#000000" stroke="#000000" stroke-width="0.18" textLength="7.14" lengthAdjust="spacingAndGlyphs">25</text>
<line x1="25.70" y1="339.60" x2="27.50" y2="339.60" stroke="#505050" stroke-width="0.9"/>
<text x="24.80" y="341.98" font-size="6.9" font-weight="bold" text-anchor="end" fill="#000000" stroke="#000000" stroke-width="0.18" textLength="7.14" lengthAdjust="spacingAndGlyphs">20</text>
<line x1="25.70" y1="354.70" x2="27.50" y2="354.70" stroke="#505050" stroke-width="0.9"/>
<text x="24.80" y="357.08" font-size="6.9" font-weight="bold" text-anchor="end" fill="#000000" stroke="#000000" stroke-width="0.18" textLength="7.14" lengthAdjust="spacingAndGlyphs">15</text>
<line x1="25.70" y1="369.80" x2="27.50" y2="369.80" stroke="#505050" stroke-width="0.9"/>
<text x="24.80" y="372.18" font-size="6.9" font-weight="bold" text-anchor="end" fill="#000000" stroke="#000000" stroke-width="0.18" textLength="7.14" lengthAdjust="spacingAndGlyphs">10</text>
<line x1="25.70" y1="384.90" x2="27.50" y2="384.90" stroke="#505050" stroke-width="0.9"/>
<text x="24.80" y="387.28" font-size="6.9" font-weight="bold" text-anchor="end" fill="#000000" stroke="#000000" stroke-width="0.18" textLength="3.57" lengthAdjust="spacingAndGlyphs">5</text>
<line x1="25.70" y1="400.00" x2="27.50" y2="400.00" stroke="#505050" stroke-width="0.9"/>
<text x="24.80" y="402.38" font-size="6.9" font-weight="bold" text-anchor="end" fill="#000000" stroke="#000000" stroke-width="0.18" textLength="3.57" lengthAdjust="spacingAndGlyphs">0</text>
<line x1="25.70" y1="415.10" x2="27.50" y2="415.10" stroke="#505050" stroke-width="0.9"/>
<text x="24.80" y="417.48" font-size="6.9" font-weight="bold" text-anchor="end" fill="#000000" stroke="#000000" stroke-width="0.18" textLength="5.71" lengthAdjust="spacingAndGlyphs">-5</text>
<line x1="25.70" y1="430.20" x2="27.50" y2="430.20" stroke="#505050" stroke-width="0.9"/>
<text x="24.80" y="432.58" font-size="6.9" font-weight="bold" text-anchor="end" fill="#000000" stroke="#000000" stroke-width="0.18" textLength="9.27" lengthAdjust="spacingAndGlyphs">-10</text>
<line x1="27.50" y1="400.00" x2="230.70" y2="400.00" stroke="#505050" stroke-width="1.2"/>
<line x1="44.50" y1="400.00" x2="44.50" y2="402.00" stroke="#505050" stroke-width="0.9"/>
<text x="44.50" y="409.58" font-size="6.9" font-weight="bold" text-anchor="middle" fill="#000000" stroke="#000000" stroke-width="0.18" textLength="7.14" lengthAdjust="spacingAndGlyphs">15</text>
<line x1="61.40" y1="400.00" x2="61.40" y2="402.00" stroke="#505050" stroke-width="0.9"/>
<text x="61.40" y="409.58" font-size="6.9" font-weight="bold" text-anchor="middle" fill="#000000" stroke="#000000" stroke-width="0.18" textLength="7.14" lengthAdjust="spacingAndGlyphs">30</text>
<line x1="78.30" y1="400.00" x2="78.30" y2="402.00" stroke="#505050" stroke-width="0.9"/>
<text x="78.30" y="409.58" font-size="6.9" font-weight="bold" text-anchor="middle" fill="#000000" stroke="#000000" stroke-width="0.18" textLength="7.14" lengthAdjust="spacingAndGlyphs">45</text>
<line x1="95.20" y1="400.00" x2="95.20" y2="402.00" stroke="#505050" stroke-width="0.9"/>
<text x="95.20" y="409.58" font-size="6.9" font-weight="bold" text-anchor="middle" fill="#000000" stroke="#000000" stroke-width="0.18" textLength="7.14" lengthAdjust="spacingAndGlyphs">60</text>
<line x1="112.10" y1="400.00" x2="112.10" y2="402.00" stroke="#505050" stroke-width="0.9"/>
<text x="112.10" y="409.58" font-size="6.9" font-weight="bold" text-anchor="middle" fill="#000000" stroke="#000000" stroke-width="0.18" textLength="7.14" lengthAdjust="spacingAndGlyphs">75</text>
<line x1="129.00" y1="400.00" x2="129.00" y2="402.00" stroke="#505050" stroke-width="0.9"/>
<text x="129.00" y="409.58" font-size="6.9" font-weight="bold" text-anchor="middle" fill="#000000" stroke="#000000" stroke-width="0.18" textLength="7.14" lengthAdjust="spacingAndGlyphs">90</text>
<line x1="145.90" y1="400.00" x2="145.90" y2="402.00" stroke="#505050" stroke-width="0.9"/>
<text x="145.90" y="409.58" font-size="6.9" font-weight="bold" text-anchor="middle" fill="#000000" stroke="#000000" stroke-width="0.18" textLength="10.71" lengthAdjust="spacingAndGlyphs">105</text>
<line x1="162.80" y1="400.00" x2="162.80" y2="402.00" stroke="#505050" stroke-width="0.9"/>
<text x="162.80" y="409.58" font-size="6.9" font-weight="bold" text-anchor="middle" fill="#000000" stroke="#000000" stroke-width="0.18" textLength="10.71" lengthAdjust="spacingAndGlyphs">120</text>
<line x1="179.70" y1="400.00" x2="179.70" y2="402.00" stroke="#505050" stroke-width="0.9"/>
<text x="179.70" y="409.58" font-size="6.9" font-weight="bold" text-anchor="middle" fill="#000000" stroke="#000000" stroke-width="0.18" textLength="10.71" lengthAdjust="spacingAndGlyphs">135</text>
<line x1="196.60" y1="400.00" x2="196.60" y2="402.00" stroke="#505050" stroke-width="0.9"/>
<text x="196.60" y="409.58" font-size="6.9" font-weight="bold" text-anchor="middle" fill="#000000" stroke="#000000" stroke-width="0.18" textLength="10.71" lengthAdjust="spacingAndGlyphs">150</text>
<line x1="213.50" y1="400.00" x2="213.50" y2="402.00" stroke="#505050" stroke-width="0.9"/>
<text x="213.50" y="409.58" font-size="6.9" font-weight="bold" text-anchor="middle" fill="#000000" stroke="#000000" stroke-width="0.18" textLength="10.71" lengthAdjust="spacingAndGlyphs">165</text>
<line x1="230.40" y1="400.00" x2="230.40" y2="402.00" stroke="#505050" stroke-width="0.9"/>
<text x="230.40" y="409.58" font-size="6.9" font-weight="bold" text-anchor="middle" fill="#000000" stroke="#000000" stroke-width="0.18" textLength="10.71" lengthAdjust="spacingAndGlyphs">180</text>
<text x="113.00" y="420.72" font-size="7" font-weight="bold" text-anchor="start" fill="#000000" stroke="#000000" stroke-width="0.18" textLength="31.70" lengthAdjust="spacingAndGlyphs">TIME (min)</text>
<text transform="translate(12.35,368.12) rotate(-90)" x="0" y="0" font-size="6.85" font-weight="bold" text-anchor="middle" fill="#000000" stroke="#000000" stroke-width="0.18" textLength="73.75" lengthAdjust="spacingAndGlyphs">Delta glucose (mg/dL)</text>
<line x1="163.20" y1="342.90" x2="171.50" y2="342.90" stroke="#e6f7e6" stroke-width="3.2"/>
<line x1="164.00" y1="342.90" x2="170.70" y2="342.90" stroke="#38a040" stroke-width="1.2"/>
<line x1="164.00" y1="353.50" x2="170.70" y2="353.50" stroke="#111111" stroke-width="1.2"/>
<text x="174.40" y="345.31" font-size="7" font-weight="normal" text-anchor="start" fill="#000000" stroke="#000000" stroke-width="0.05" textLength="37.50" lengthAdjust="spacingAndGlyphs">Mankai mean</text>
<text x="174.40" y="355.92" font-size="7" font-weight="normal" text-anchor="start" fill="#000000" stroke="#000000" stroke-width="0.05" textLength="35.20" lengthAdjust="spacingAndGlyphs">Yogurt mean</text>
<polyline points="27.50,400.00 44.40,397.50 61.30,390.00 78.20,381.80 95.10,378.60 112.00,391.50 128.90,403.00 145.80,411.50 162.70,416.30 179.60,415.20 196.50,418.50 213.40,420.10 230.30,423.40" fill="none" stroke="#e6f7e6" stroke-width="2.4" stroke-linejoin="miter" stroke-miterlimit="3"/>
<polyline points="27.50,400.00 44.40,404.30 61.30,395.80 78.20,393.80 95.10,394.60 112.00,401.00 128.90,408.50 145.80,417.00 162.70,426.20 179.60,425.20 196.50,418.50 213.40,421.30 230.30,416.90" fill="none" stroke="#111111" stroke-width="1.25" stroke-linejoin="miter" stroke-miterlimit="3"/>
<polyline points="27.50,400.00 44.40,397.50 61.30,390.00 78.20,381.80 95.10,378.60 112.00,391.50 128.90,403.00 145.80,411.50 162.70,416.30 179.60,415.20 196.50,418.50 213.40,420.10 230.30,423.40" fill="none" stroke="#38a040" stroke-width="1.25" stroke-linejoin="miter" stroke-miterlimit="3"/>
<text x="355.50" y="296.22" font-size="7" font-weight="bold" text-anchor="start" fill="#000000" stroke="#000000" stroke-width="0.18" textLength="53.00" lengthAdjust="spacingAndGlyphs">Participant no. 6</text>
<line x1="272.50" y1="306.25" x2="272.50" y2="416.40" stroke="#444444" stroke-width="1.1"/>
<line x1="270.70" y1="306.64" x2="272.50" y2="306.64" stroke="#444444" stroke-width="0.9"/>
<text x="268.40" y="309.82" font-size="6.9" font-weight="bold" text-anchor="end" fill="#000000" stroke="#000000" stroke-width="0.18" textLength="7.14" lengthAdjust="spacingAndGlyphs">40</text>
<line x1="270.70" y1="320.36" x2="272.50" y2="320.36" stroke="#444444" stroke-width="0.9"/>
<text x="268.40" y="323.54" font-size="6.9" font-weight="bold" text-anchor="end" fill="#000000" stroke="#000000" stroke-width="0.18" textLength="7.14" lengthAdjust="spacingAndGlyphs">35</text>
<line x1="270.70" y1="334.08" x2="272.50" y2="334.08" stroke="#444444" stroke-width="0.9"/>
<text x="268.40" y="337.26" font-size="6.9" font-weight="bold" text-anchor="end" fill="#000000" stroke="#000000" stroke-width="0.18" textLength="7.14" lengthAdjust="spacingAndGlyphs">30</text>
<line x1="270.70" y1="347.80" x2="272.50" y2="347.80" stroke="#444444" stroke-width="0.9"/>
<text x="268.40" y="350.98" font-size="6.9" font-weight="bold" text-anchor="end" fill="#000000" stroke="#000000" stroke-width="0.18" textLength="7.14" lengthAdjust="spacingAndGlyphs">25</text>
<line x1="270.70" y1="361.52" x2="272.50" y2="361.52" stroke="#444444" stroke-width="0.9"/>
<text x="268.40" y="364.70" font-size="6.9" font-weight="bold" text-anchor="end" fill="#000000" stroke="#000000" stroke-width="0.18" textLength="7.14" lengthAdjust="spacingAndGlyphs">20</text>
<line x1="270.70" y1="375.24" x2="272.50" y2="375.24" stroke="#444444" stroke-width="0.9"/>
<text x="268.40" y="378.42" font-size="6.9" font-weight="bold" text-anchor="end" fill="#000000" stroke="#000000" stroke-width="0.18" textLength="7.14" lengthAdjust="spacingAndGlyphs">15</text>
<line x1="270.70" y1="388.96" x2="272.50" y2="388.96" stroke="#444444" stroke-width="0.9"/>
<text x="268.40" y="392.14" font-size="6.9" font-weight="bold" text-anchor="end" fill="#000000" stroke="#000000" stroke-width="0.18" textLength="7.14" lengthAdjust="spacingAndGlyphs">10</text>
<line x1="270.70" y1="402.68" x2="272.50" y2="402.68" stroke="#444444" stroke-width="0.9"/>
<text x="268.40" y="405.86" font-size="6.9" font-weight="bold" text-anchor="end" fill="#000000" stroke="#000000" stroke-width="0.18" textLength="3.57" lengthAdjust="spacingAndGlyphs">5</text>
<line x1="270.70" y1="416.40" x2="272.50" y2="416.40" stroke="#444444" stroke-width="0.9"/>
<text x="268.40" y="419.58" font-size="6.9" font-weight="bold" text-anchor="end" fill="#000000" stroke="#000000" stroke-width="0.18" textLength="3.57" lengthAdjust="spacingAndGlyphs">0</text>
<line x1="272.50" y1="416.40" x2="491.50" y2="416.40" stroke="#444444" stroke-width="1.1"/>
<text x="272.50" y="425.58" font-size="6.9" font-weight="bold" text-anchor="middle" fill="#000000" stroke="#000000" stroke-width="0.18" textLength="3.57" lengthAdjust="spacingAndGlyphs">0</text>
<line x1="290.75" y1="416.40" x2="290.75" y2="418.40" stroke="#444444" stroke-width="0.9"/>
<text x="290.75" y="425.58" font-size="6.9" font-weight="bold" text-anchor="middle" fill="#000000" stroke="#000000" stroke-width="0.18" textLength="7.14" lengthAdjust="spacingAndGlyphs">15</text>
<line x1="309.00" y1="416.40" x2="309.00" y2="418.40" stroke="#444444" stroke-width="0.9"/>
<text x="309.00" y="425.58" font-size="6.9" font-weight="bold" text-anchor="middle" fill="#000000" stroke="#000000" stroke-width="0.18" textLength="7.14" lengthAdjust="spacingAndGlyphs">30</text>
<line x1="327.25" y1="416.40" x2="327.25" y2="418.40" stroke="#444444" stroke-width="0.9"/>
<text x="327.25" y="425.58" font-size="6.9" font-weight="bold" text-anchor="middle" fill="#000000" stroke="#000000" stroke-width="0.18" textLength="7.14" lengthAdjust="spacingAndGlyphs">45</text>
<line x1="345.50" y1="416.40" x2="345.50" y2="418.40" stroke="#444444" stroke-width="0.9"/>
<text x="345.50" y="425.58" font-size="6.9" font-weight="bold" text-anchor="middle" fill="#000000" stroke="#000000" stroke-width="0.18" textLength="7.14" lengthAdjust="spacingAndGlyphs">60</text>
<line x1="363.75" y1="416.40" x2="363.75" y2="418.40" stroke="#444444" stroke-width="0.9"/>
<text x="363.75" y="425.58" font-size="6.9" font-weight="bold" text-anchor="middle" fill="#000000" stroke="#000000" stroke-width="0.18" textLength="7.14" lengthAdjust="spacingAndGlyphs">75</text>
<line x1="382.00" y1="416.40" x2="382.00" y2="418.40" stroke="#444444" stroke-width="0.9"/>
<text x="382.00" y="425.58" font-size="6.9" font-weight="bold" text-anchor="middle" fill="#000000" stroke="#000000" stroke-width="0.18" textLength="7.14" lengthAdjust="spacingAndGlyphs">90</text>
<line x1="400.25" y1="416.40" x2="400.25" y2="418.40" stroke="#444444" stroke-width="0.9"/>
<text x="400.25" y="425.58" font-size="6.9" font-weight="bold" text-anchor="middle" fill="#000000" stroke="#000000" stroke-width="0.18" textLength="10.71" lengthAdjust="spacingAndGlyphs">105</text>
<line x1="418.50" y1="416.40" x2="418.50" y2="418.40" stroke="#444444" stroke-width="0.9"/>
<text x="418.50" y="425.58" font-size="6.9" font-weight="bold" text-anchor="middle" fill="#000000" stroke="#000000" stroke-width="0.18" textLength="10.71" lengthAdjust="spacingAndGlyphs">120</text>
<line x1="436.75" y1="416.40" x2="436.75" y2="418.40" stroke="#444444" stroke-width="0.9"/>
<text x="436.75" y="425.58" font-size="6.9" font-weight="bold" text-anchor="middle" fill="#000000" stroke="#000000" stroke-width="0.18" textLength="10.71" lengthAdjust="spacingAndGlyphs">135</text>
<line x1="455.00" y1="416.40" x2="455.00" y2="418.40" stroke="#444444" stroke-width="0.9"/>
<text x="455.00" y="425.58" font-size="6.9" font-weight="bold" text-anchor="middle" fill="#000000" stroke="#000000" stroke-width="0.18" textLength="10.71" lengthAdjust="spacingAndGlyphs">150</text>
<line x1="473.25" y1="416.40" x2="473.25" y2="418.40" stroke="#444444" stroke-width="0.9"/>
<text x="473.25" y="425.58" font-size="6.9" font-weight="bold" text-anchor="middle" fill="#000000" stroke="#000000" stroke-width="0.18" textLength="10.71" lengthAdjust="spacingAndGlyphs">165</text>
<line x1="491.50" y1="416.40" x2="491.50" y2="418.40" stroke="#444444" stroke-width="0.9"/>
<text x="491.50" y="425.58" font-size="6.9" font-weight="bold" text-anchor="middle" fill="#000000" stroke="#000000" stroke-width="0.18" textLength="10.71" lengthAdjust="spacingAndGlyphs">180</text>
<text x="363.80" y="435.31" font-size="7" font-weight="bold" text-anchor="start" fill="#000000" stroke="#000000" stroke-width="0.18" textLength="36.00" lengthAdjust="spacingAndGlyphs">TIME (min)</text>
<text transform="translate(259.05,360.40) rotate(-90)" x="0" y="0" font-size="6.55" font-weight="bold" text-anchor="middle" fill="#000000" stroke="#000000" stroke-width="0.18" textLength="67.80" lengthAdjust="spacingAndGlyphs">Delta glucose (mg/dL)</text>
<line x1="442.10" y1="309.80" x2="450.80" y2="309.80" stroke="#e6f7e6" stroke-width="3.2"/>
<line x1="442.90" y1="309.80" x2="450.00" y2="309.80" stroke="#38a040" stroke-width="1.2"/>
<line x1="442.90" y1="319.10" x2="450.00" y2="319.10" stroke="#111111" stroke-width="1.2"/>
<text x="454.00" y="312.22" font-size="7" font-weight="normal" text-anchor="start" fill="#000000" stroke="#000000" stroke-width="0.05" textLength="40.60" lengthAdjust="spacingAndGlyphs">Mankai mean</text>
<text x="454.00" y="321.52" font-size="7" font-weight="normal" text-anchor="start" fill="#000000" stroke="#000000" stroke-width="0.05" textLength="38.20" lengthAdjust="spacingAndGlyphs">Yogurt mean</text>
<polyline points="290.75,416.40 309.00,405.00 327.25,384.50 345.50,381.80 363.75,376.20 382.00,359.40 400.25,346.20 418.50,337.50 436.75,328.30 455.00,328.30 473.25,336.30 491.50,340.60" fill="none" stroke="#e6f7e6" stroke-width="2.4" stroke-linejoin="miter" stroke-miterlimit="3"/>
<polyline points="272.50,416.40 290.75,407.00 309.00,386.30 327.25,363.80 345.50,352.00 363.75,347.30 382.00,350.20 400.25,354.50 418.50,348.30 436.75,350.20 455.00,353.20 473.25,362.50 491.50,366.80" fill="none" stroke="#111111" stroke-width="1.25" stroke-linejoin="miter" stroke-miterlimit="3"/>
<polyline points="290.75,416.40 309.00,405.00 327.25,384.50 345.50,381.80 363.75,376.20 382.00,359.40 400.25,346.20 418.50,337.50 436.75,328.30 455.00,328.30 473.25,336.30 491.50,340.60" fill="none" stroke="#38a040" stroke-width="1.25" stroke-linejoin="miter" stroke-miterlimit="3"/>
<text x="95.20" y="458.42" font-size="7" font-weight="bold" text-anchor="start" fill="#000000" stroke="#000000" stroke-width="0.18" textLength="50.80" lengthAdjust="spacingAndGlyphs">Participant no. 7</text>
<line x1="28.80" y1="460.50" x2="28.80" y2="594.00" stroke="#666666" stroke-width="1.3"/>
<line x1="27.00" y1="460.40" x2="28.80" y2="460.40" stroke="#666666" stroke-width="0.9"/>
<text x="26.00" y="463.42" font-size="7.0" font-weight="bold" text-anchor="end" fill="#000000" stroke="#000000" stroke-width="0.18" textLength="7.24" lengthAdjust="spacingAndGlyphs">30</text>
<line x1="27.00" y1="472.45" x2="28.80" y2="472.45" stroke="#666666" stroke-width="0.9"/>
<text x="26.00" y="475.47" font-size="7.0" font-weight="bold" text-anchor="end" fill="#000000" stroke="#000000" stroke-width="0.18" textLength="7.24" lengthAdjust="spacingAndGlyphs">25</text>
<line x1="27.00" y1="484.50" x2="28.80" y2="484.50" stroke="#666666" stroke-width="0.9"/>
<text x="26.00" y="487.52" font-size="7.0" font-weight="bold" text-anchor="end" fill="#000000" stroke="#000000" stroke-width="0.18" textLength="7.24" lengthAdjust="spacingAndGlyphs">20</text>
<line x1="27.00" y1="496.55" x2="28.80" y2="496.55" stroke="#666666" stroke-width="0.9"/>
<text x="26.00" y="499.57" font-size="7.0" font-weight="bold" text-anchor="end" fill="#000000" stroke="#000000" stroke-width="0.18" textLength="7.24" lengthAdjust="spacingAndGlyphs">15</text>
<line x1="27.00" y1="508.60" x2="28.80" y2="508.60" stroke="#666666" stroke-width="0.9"/>
<text x="26.00" y="511.62" font-size="7.0" font-weight="bold" text-anchor="end" fill="#000000" stroke="#000000" stroke-width="0.18" textLength="7.24" lengthAdjust="spacingAndGlyphs">10</text>
<line x1="27.00" y1="520.65" x2="28.80" y2="520.65" stroke="#666666" stroke-width="0.9"/>
<text x="26.00" y="523.67" font-size="7.0" font-weight="bold" text-anchor="end" fill="#000000" stroke="#000000" stroke-width="0.18" textLength="3.62" lengthAdjust="spacingAndGlyphs">5</text>
<line x1="27.00" y1="532.70" x2="28.80" y2="532.70" stroke="#666666" stroke-width="0.9"/>
<text x="26.00" y="535.72" font-size="7.0" font-weight="bold" text-anchor="end" fill="#000000" stroke="#000000" stroke-width="0.18" textLength="3.62" lengthAdjust="spacingAndGlyphs">0</text>
<line x1="27.00" y1="544.75" x2="28.80" y2="544.75" stroke="#666666" stroke-width="0.9"/>
<text x="26.00" y="547.76" font-size="7.0" font-weight="bold" text-anchor="end" fill="#000000" stroke="#000000" stroke-width="0.18" textLength="5.79" lengthAdjust="spacingAndGlyphs">-5</text>
<line x1="27.00" y1="556.80" x2="28.80" y2="556.80" stroke="#666666" stroke-width="0.9"/>
<text x="26.00" y="559.82" font-size="7.0" font-weight="bold" text-anchor="end" fill="#000000" stroke="#000000" stroke-width="0.18" textLength="9.41" lengthAdjust="spacingAndGlyphs">-10</text>
<line x1="27.00" y1="568.85" x2="28.80" y2="568.85" stroke="#666666" stroke-width="0.9"/>
<text x="26.00" y="571.87" font-size="7.0" font-weight="bold" text-anchor="end" fill="#000000" stroke="#000000" stroke-width="0.18" textLength="9.41" lengthAdjust="spacingAndGlyphs">-15</text>
<line x1="27.00" y1="580.90" x2="28.80" y2="580.90" stroke="#666666" stroke-width="0.9"/>
<text x="26.00" y="583.92" font-size="7.0" font-weight="bold" text-anchor="end" fill="#000000" stroke="#000000" stroke-width="0.18" textLength="9.41" lengthAdjust="spacingAndGlyphs">-20</text>
<line x1="27.00" y1="592.95" x2="28.80" y2="592.95" stroke="#666666" stroke-width="0.9"/>
<text x="26.00" y="595.97" font-size="7.0" font-weight="bold" text-anchor="end" fill="#000000" stroke="#000000" stroke-width="0.18" textLength="9.41" lengthAdjust="spacingAndGlyphs">-25</text>
<line x1="28.80" y1="532.70" x2="241.40" y2="532.70" stroke="#666666" stroke-width="1.3"/>
<line x1="46.70" y1="532.70" x2="46.70" y2="534.70" stroke="#666666" stroke-width="0.9"/>
<text x="46.70" y="543.21" font-size="7.0" font-weight="bold" text-anchor="middle" fill="#000000" stroke="#000000" stroke-width="0.18" textLength="7.24" lengthAdjust="spacingAndGlyphs">15</text>
<line x1="64.40" y1="532.70" x2="64.40" y2="534.70" stroke="#666666" stroke-width="0.9"/>
<text x="64.40" y="543.21" font-size="7.0" font-weight="bold" text-anchor="middle" fill="#000000" stroke="#000000" stroke-width="0.18" textLength="7.24" lengthAdjust="spacingAndGlyphs">30</text>
<line x1="82.10" y1="532.70" x2="82.10" y2="534.70" stroke="#666666" stroke-width="0.9"/>
<text x="82.10" y="543.21" font-size="7.0" font-weight="bold" text-anchor="middle" fill="#000000" stroke="#000000" stroke-width="0.18" textLength="7.24" lengthAdjust="spacingAndGlyphs">45</text>
<line x1="99.80" y1="532.70" x2="99.80" y2="534.70" stroke="#666666" stroke-width="0.9"/>
<text x="99.80" y="543.21" font-size="7.0" font-weight="bold" text-anchor="middle" fill="#000000" stroke="#000000" stroke-width="0.18" textLength="7.24" lengthAdjust="spacingAndGlyphs">60</text>
<line x1="117.50" y1="532.70" x2="117.50" y2="534.70" stroke="#666666" stroke-width="0.9"/>
<text x="117.50" y="543.21" font-size="7.0" font-weight="bold" text-anchor="middle" fill="#000000" stroke="#000000" stroke-width="0.18" textLength="7.24" lengthAdjust="spacingAndGlyphs">75</text>
<line x1="135.20" y1="532.70" x2="135.20" y2="534.70" stroke="#666666" stroke-width="0.9"/>
<text x="135.20" y="543.21" font-size="7.0" font-weight="bold" text-anchor="middle" fill="#000000" stroke="#000000" stroke-width="0.18" textLength="7.24" lengthAdjust="spacingAndGlyphs">90</text>
<line x1="152.90" y1="532.70" x2="152.90" y2="534.70" stroke="#666666" stroke-width="0.9"/>
<text x="152.90" y="543.21" font-size="7.0" font-weight="bold" text-anchor="middle" fill="#000000" stroke="#000000" stroke-width="0.18" textLength="10.86" lengthAdjust="spacingAndGlyphs">105</text>
<line x1="170.60" y1="532.70" x2="170.60" y2="534.70" stroke="#666666" stroke-width="0.9"/>
<text x="170.60" y="543.21" font-size="7.0" font-weight="bold" text-anchor="middle" fill="#000000" stroke="#000000" stroke-width="0.18" textLength="10.86" lengthAdjust="spacingAndGlyphs">120</text>
<line x1="188.30" y1="532.70" x2="188.30" y2="534.70" stroke="#666666" stroke-width="0.9"/>
<text x="188.30" y="543.21" font-size="7.0" font-weight="bold" text-anchor="middle" fill="#000000" stroke="#000000" stroke-width="0.18" textLength="10.86" lengthAdjust="spacingAndGlyphs">135</text>
<line x1="206.00" y1="532.70" x2="206.00" y2="534.70" stroke="#666666" stroke-width="0.9"/>
<text x="206.00" y="543.21" font-size="7.0" font-weight="bold" text-anchor="middle" fill="#000000" stroke="#000000" stroke-width="0.18" textLength="10.86" lengthAdjust="spacingAndGlyphs">150</text>
<line x1="223.70" y1="532.70" x2="223.70" y2="534.70" stroke="#666666" stroke-width="0.9"/>
<text x="223.70" y="543.21" font-size="7.0" font-weight="bold" text-anchor="middle" fill="#000000" stroke="#000000" stroke-width="0.18" textLength="10.86" lengthAdjust="spacingAndGlyphs">165</text>
<line x1="241.40" y1="532.70" x2="241.40" y2="534.70" stroke="#666666" stroke-width="0.9"/>
<text x="241.40" y="543.21" font-size="7.0" font-weight="bold" text-anchor="middle" fill="#000000" stroke="#000000" stroke-width="0.18" textLength="10.86" lengthAdjust="spacingAndGlyphs">180</text>
<text x="118.30" y="555.62" font-size="7" font-weight="bold" text-anchor="start" fill="#000000" stroke="#000000" stroke-width="0.18" textLength="34.80" lengthAdjust="spacingAndGlyphs">TIME (min)</text>
<text transform="translate(13.15,524.85) rotate(-90)" x="0" y="0" font-size="6.75" font-weight="bold" text-anchor="middle" fill="#000000" stroke="#000000" stroke-width="0.18" textLength="81.10" lengthAdjust="spacingAndGlyphs">Delta glucose (mg/dL)</text>
<line x1="190.10" y1="455.60" x2="199.10" y2="455.60" stroke="#e6f7e6" stroke-width="3.2"/>
<line x1="190.90" y1="455.60" x2="198.30" y2="455.60" stroke="#38a040" stroke-width="1.2"/>
<line x1="190.90" y1="466.20" x2="198.30" y2="466.20" stroke="#111111" stroke-width="1.2"/>
<text x="201.40" y="458.19" font-size="7.5" font-weight="normal" text-anchor="start" fill="#000000" stroke="#000000" stroke-width="0.05" textLength="40.00" lengthAdjust="spacingAndGlyphs">Mankai mean</text>
<text x="201.40" y="468.79" font-size="7.5" font-weight="normal" text-anchor="start" fill="#000000" stroke="#000000" stroke-width="0.05" textLength="37.20" lengthAdjust="spacingAndGlyphs">Yogurt mean</text>
<polyline points="28.80,532.70 46.50,565.50 64.20,588.50 81.90,581.30 99.60,551.00 117.30,520.60 135.00,510.80 152.70,531.70 170.40,568.60 188.10,578.50 205.80,556.30 223.50,532.30 241.20,520.60" fill="none" stroke="#e6f7e6" stroke-width="2.4" stroke-linejoin="miter" stroke-miterlimit="3"/>
<polyline points="28.80,532.70 46.50,566.50 64.20,554.50 81.90,491.80 99.60,506.50 117.30,557.00 135.00,513.80 152.70,464.60 170.40,476.90 188.10,509.20 205.80,525.50 223.50,559.40 241.20,566.20" fill="none" stroke="#111111" stroke-width="1.25" stroke-linejoin="miter" stroke-miterlimit="3"/>
<polyline points="28.80,532.70 46.50,565.50 64.20,588.50 81.90,581.30 99.60,551.00 117.30,520.60 135.00,510.80 152.70,531.70 170.40,568.60 188.10,578.50 205.80,556.30 223.50,532.30 241.20,520.60" fill="none" stroke="#38a040" stroke-width="1.25" stroke-linejoin="miter" stroke-miterlimit="3"/>
<text x="370.80" y="455.42" font-size="7" font-weight="bold" text-anchor="start" fill="#000000" stroke="#000000" stroke-width="0.18" textLength="54.40" lengthAdjust="spacingAndGlyphs">Participant no. 8</text>
<line x1="286.60" y1="467.00" x2="286.60" y2="586.00" stroke="#444444" stroke-width="1.1"/>
<line x1="284.80" y1="466.60" x2="286.60" y2="466.60" stroke="#444444" stroke-width="0.9"/>
<text x="282.80" y="469.48" font-size="6.9" font-weight="bold" text-anchor="end" fill="#000000" stroke="#000000" stroke-width="0.18" textLength="7.44" lengthAdjust="spacingAndGlyphs">30</text>
<line x1="284.80" y1="481.50" x2="286.60" y2="481.50" stroke="#444444" stroke-width="0.9"/>
<text x="282.80" y="484.38" font-size="6.9" font-weight="bold" text-anchor="end" fill="#000000" stroke="#000000" stroke-width="0.18" textLength="7.44" lengthAdjust="spacingAndGlyphs">25</text>
<line x1="284.80" y1="496.40" x2="286.60" y2="496.40" stroke="#444444" stroke-width="0.9"/>
<text x="282.80" y="499.28" font-size="6.9" font-weight="bold" text-anchor="end" fill="#000000" stroke="#000000" stroke-width="0.18" textLength="7.44" lengthAdjust="spacingAndGlyphs">20</text>
<line x1="284.80" y1="511.30" x2="286.60" y2="511.30" stroke="#444444" stroke-width="0.9"/>
<text x="282.80" y="514.18" font-size="6.9" font-weight="bold" text-anchor="end" fill="#000000" stroke="#000000" stroke-width="0.18" textLength="7.44" lengthAdjust="spacingAndGlyphs">15</text>
<line x1="284.80" y1="526.20" x2="286.60" y2="526.20" stroke="#444444" stroke-width="0.9"/>
<text x="282.80" y="529.08" font-size="6.9" font-weight="bold" text-anchor="end" fill="#000000" stroke="#000000" stroke-width="0.18" textLength="7.44" lengthAdjust="spacingAndGlyphs">10</text>
<line x1="284.80" y1="541.10" x2="286.60" y2="541.10" stroke="#444444" stroke-width="0.9"/>
<text x="282.80" y="543.98" font-size="6.9" font-weight="bold" text-anchor="end" fill="#000000" stroke="#000000" stroke-width="0.18" textLength="3.72" lengthAdjust="spacingAndGlyphs">5</text>
<line x1="284.80" y1="556.00" x2="286.60" y2="556.00" stroke="#444444" stroke-width="0.9"/>
<text x="282.80" y="558.88" font-size="6.9" font-weight="bold" text-anchor="end" fill="#000000" stroke="#000000" stroke-width="0.18" textLength="3.72" lengthAdjust="spacingAndGlyphs">0</text>
<line x1="284.80" y1="570.90" x2="286.60" y2="570.90" stroke="#444444" stroke-width="0.9"/>
<text x="282.80" y="573.78" font-size="6.9" font-weight="bold" text-anchor="end" fill="#000000" stroke="#000000" stroke-width="0.18" textLength="5.95" lengthAdjust="spacingAndGlyphs">-5</text>
<line x1="284.80" y1="585.80" x2="286.60" y2="585.80" stroke="#444444" stroke-width="0.9"/>
<text x="282.80" y="588.68" font-size="6.9" font-weight="bold" text-anchor="end" fill="#000000" stroke="#000000" stroke-width="0.18" textLength="9.67" lengthAdjust="spacingAndGlyphs">-10</text>
<line x1="286.60" y1="556.00" x2="510.80" y2="556.00" stroke="#444444" stroke-width="1.1"/>
<line x1="304.95" y1="556.00" x2="304.95" y2="558.00" stroke="#444444" stroke-width="0.9"/>
<text x="304.95" y="566.18" font-size="6.9" font-weight="bold" text-anchor="middle" fill="#000000" stroke="#000000" stroke-width="0.18" textLength="7.44" lengthAdjust="spacingAndGlyphs">15</text>
<line x1="323.65" y1="556.00" x2="323.65" y2="558.00" stroke="#444444" stroke-width="0.9"/>
<text x="323.65" y="566.18" font-size="6.9" font-weight="bold" text-anchor="middle" fill="#000000" stroke="#000000" stroke-width="0.18" textLength="7.44" lengthAdjust="spacingAndGlyphs">30</text>
<line x1="342.35" y1="556.00" x2="342.35" y2="558.00" stroke="#444444" stroke-width="0.9"/>
<text x="342.35" y="566.18" font-size="6.9" font-weight="bold" text-anchor="middle" fill="#000000" stroke="#000000" stroke-width="0.18" textLength="7.44" lengthAdjust="spacingAndGlyphs">45</text>
<line x1="361.05" y1="556.00" x2="361.05" y2="558.00" stroke="#444444" stroke-width="0.9"/>
<text x="361.05" y="566.18" font-size="6.9" font-weight="bold" text-anchor="middle" fill="#000000" stroke="#000000" stroke-width="0.18" textLength="7.44" lengthAdjust="spacingAndGlyphs">60</text>
<line x1="379.75" y1="556.00" x2="379.75" y2="558.00" stroke="#444444" stroke-width="0.9"/>
<text x="379.75" y="566.18" font-size="6.9" font-weight="bold" text-anchor="middle" fill="#000000" stroke="#000000" stroke-width="0.18" textLength="7.44" lengthAdjust="spacingAndGlyphs">75</text>
<line x1="398.45" y1="556.00" x2="398.45" y2="558.00" stroke="#444444" stroke-width="0.9"/>
<text x="398.45" y="566.18" font-size="6.9" font-weight="bold" text-anchor="middle" fill="#000000" stroke="#000000" stroke-width="0.18" textLength="7.44" lengthAdjust="spacingAndGlyphs">90</text>
<line x1="417.15" y1="556.00" x2="417.15" y2="558.00" stroke="#444444" stroke-width="0.9"/>
<text x="417.15" y="566.18" font-size="6.9" font-weight="bold" text-anchor="middle" fill="#000000" stroke="#000000" stroke-width="0.18" textLength="11.17" lengthAdjust="spacingAndGlyphs">105</text>
<line x1="435.85" y1="556.00" x2="435.85" y2="558.00" stroke="#444444" stroke-width="0.9"/>
<text x="435.85" y="566.18" font-size="6.9" font-weight="bold" text-anchor="middle" fill="#000000" stroke="#000000" stroke-width="0.18" textLength="11.17" lengthAdjust="spacingAndGlyphs">120</text>
<line x1="454.55" y1="556.00" x2="454.55" y2="558.00" stroke="#444444" stroke-width="0.9"/>
<text x="454.55" y="566.18" font-size="6.9" font-weight="bold" text-anchor="middle" fill="#000000" stroke="#000000" stroke-width="0.18" textLength="11.17" lengthAdjust="spacingAndGlyphs">135</text>
<line x1="473.25" y1="556.00" x2="473.25" y2="558.00" stroke="#444444" stroke-width="0.9"/>
<text x="473.25" y="566.18" font-size="6.9" font-weight="bold" text-anchor="middle" fill="#000000" stroke="#000000" stroke-width="0.18" textLength="11.17" lengthAdjust="spacingAndGlyphs">150</text>
<line x1="491.95" y1="556.00" x2="491.95" y2="558.00" stroke="#444444" stroke-width="0.9"/>
<text x="491.95" y="566.18" font-size="6.9" font-weight="bold" text-anchor="middle" fill="#000000" stroke="#000000" stroke-width="0.18" textLength="11.17" lengthAdjust="spacingAndGlyphs">165</text>
<line x1="510.65" y1="556.00" x2="510.65" y2="558.00" stroke="#444444" stroke-width="0.9"/>
<text x="510.65" y="566.18" font-size="6.9" font-weight="bold" text-anchor="middle" fill="#000000" stroke="#000000" stroke-width="0.18" textLength="11.17" lengthAdjust="spacingAndGlyphs">180</text>
<text x="380.00" y="576.12" font-size="7" font-weight="bold" text-anchor="start" fill="#000000" stroke="#000000" stroke-width="0.18" textLength="36.90" lengthAdjust="spacingAndGlyphs">TIME (min)</text>
<text transform="translate(269.75,524.85) rotate(-90)" x="0" y="0" font-size="6.75" font-weight="bold" text-anchor="middle" fill="#000000" stroke="#000000" stroke-width="0.18" textLength="72.90" lengthAdjust="spacingAndGlyphs">Delta glucose (mg/dL)</text>
<line x1="439.80" y1="473.70" x2="450.00" y2="473.70" stroke="#e6f7e6" stroke-width="3.2"/>
<line x1="440.60" y1="473.70" x2="449.20" y2="473.70" stroke="#38a040" stroke-width="1.2"/>
<line x1="440.60" y1="483.20" x2="449.20" y2="483.20" stroke="#111111" stroke-width="1.2"/>
<text x="452.90" y="476.12" font-size="7" font-weight="normal" text-anchor="start" fill="#000000" stroke="#000000" stroke-width="0.05" textLength="41.60" lengthAdjust="spacingAndGlyphs">Mankai mean</text>
<text x="452.90" y="485.62" font-size="7" font-weight="normal" text-anchor="start" fill="#000000" stroke="#000000" stroke-width="0.05" textLength="39.40" lengthAdjust="spacingAndGlyphs">Yogurt mean</text>
<polyline points="286.60,556.00 305.28,561.80 323.96,550.00 342.64,516.80 361.32,491.80 380.00,489.00 398.68,505.90 417.36,523.40 436.04,522.20 454.72,535.70 473.40,538.20 492.08,553.60 510.76,556.00" fill="none" stroke="#e6f7e6" stroke-width="2.4" stroke-linejoin="miter" stroke-miterlimit="3"/>
<polyline points="286.60,556.00 305.28,556.50 323.96,546.00 342.64,526.80 361.32,513.00 380.00,517.60 398.68,520.70 417.36,519.70 436.04,523.40 454.72,529.90 473.40,534.20 492.08,538.80 510.76,541.90" fill="none" stroke="#111111" stroke-width="1.25" stroke-linejoin="miter" stroke-miterlimit="3"/>
<polyline points="286.60,556.00 305.28,561.80 323.96,550.00 342.64,516.80 361.32,491.80 380.00,489.00 398.68,505.90 417.36,523.40 436.04,522.20 454.72,535.70 473.40,538.20 492.08,553.60 510.76,556.00" fill="none" stroke="#38a040" stroke-width="1.25" stroke-linejoin="miter" stroke-miterlimit="3"/>
<text x="106.90" y="608.91" font-size="7" font-weight="bold" text-anchor="start" fill="#000000" stroke="#000000" stroke-width="0.18" textLength="51.40" lengthAdjust="spacingAndGlyphs">Participant no. 9</text>
<line x1="28.75" y1="620.50" x2="28.75" y2="738.30" stroke="#444444" stroke-width="1.1"/>
<line x1="26.95" y1="620.60" x2="28.75" y2="620.60" stroke="#444444" stroke-width="0.9"/>
<text x="25.50" y="623.38" font-size="6.9" font-weight="bold" text-anchor="end" fill="#000000" stroke="#000000" stroke-width="0.18" textLength="7.14" lengthAdjust="spacingAndGlyphs">30</text>
<line x1="26.95" y1="635.25" x2="28.75" y2="635.25" stroke="#444444" stroke-width="0.9"/>
<text x="25.50" y="638.03" font-size="6.9" font-weight="bold" text-anchor="end" fill="#000000" stroke="#000000" stroke-width="0.18" textLength="7.14" lengthAdjust="spacingAndGlyphs">25</text>
<line x1="26.95" y1="649.90" x2="28.75" y2="649.90" stroke="#444444" stroke-width="0.9"/>
<text x="25.50" y="652.68" font-size="6.9" font-weight="bold" text-anchor="end" fill="#000000" stroke="#000000" stroke-width="0.18" textLength="7.14" lengthAdjust="spacingAndGlyphs">20</text>
<line x1="26.95" y1="664.55" x2="28.75" y2="664.55" stroke="#444444" stroke-width="0.9"/>
<text x="25.50" y="667.33" font-size="6.9" font-weight="bold" text-anchor="end" fill="#000000" stroke="#000000" stroke-width="0.18" textLength="7.14" lengthAdjust="spacingAndGlyphs">15</text>
<line x1="26.95" y1="679.20" x2="28.75" y2="679.20" stroke="#444444" stroke-width="0.9"/>
<text x="25.50" y="681.98" font-size="6.9" font-weight="bold" text-anchor="end" fill="#000000" stroke="#000000" stroke-width="0.18" textLength="7.14" lengthAdjust="spacingAndGlyphs">10</text>
<line x1="26.95" y1="693.85" x2="28.75" y2="693.85" stroke="#444444" stroke-width="0.9"/>
<text x="25.50" y="696.63" font-size="6.9" font-weight="bold" text-anchor="end" fill="#000000" stroke="#000000" stroke-width="0.18" textLength="3.57" lengthAdjust="spacingAndGlyphs">5</text>
<line x1="26.95" y1="708.50" x2="28.75" y2="708.50" stroke="#444444" stroke-width="0.9"/>
<text x="25.50" y="711.28" font-size="6.9" font-weight="bold" text-anchor="end" fill="#000000" stroke="#000000" stroke-width="0.18" textLength="3.57" lengthAdjust="spacingAndGlyphs">0</text>
<line x1="26.95" y1="723.15" x2="28.75" y2="723.15" stroke="#444444" stroke-width="0.9"/>
<text x="25.50" y="725.93" font-size="6.9" font-weight="bold" text-anchor="end" fill="#000000" stroke="#000000" stroke-width="0.18" textLength="5.71" lengthAdjust="spacingAndGlyphs">-5</text>
<line x1="26.95" y1="737.80" x2="28.75" y2="737.80" stroke="#444444" stroke-width="0.9"/>
<text x="25.50" y="740.58" font-size="6.9" font-weight="bold" text-anchor="end" fill="#000000" stroke="#000000" stroke-width="0.18" textLength="9.27" lengthAdjust="spacingAndGlyphs">-10</text>
<line x1="28.75" y1="708.50" x2="236.30" y2="708.50" stroke="#444444" stroke-width="1.1"/>
<line x1="46.05" y1="708.50" x2="46.05" y2="710.50" stroke="#444444" stroke-width="0.9"/>
<text x="46.05" y="718.18" font-size="6.9" font-weight="bold" text-anchor="middle" fill="#000000" stroke="#000000" stroke-width="0.18" textLength="7.14" lengthAdjust="spacingAndGlyphs">15</text>
<line x1="63.35" y1="708.50" x2="63.35" y2="710.50" stroke="#444444" stroke-width="0.9"/>
<text x="63.35" y="718.18" font-size="6.9" font-weight="bold" text-anchor="middle" fill="#000000" stroke="#000000" stroke-width="0.18" textLength="7.14" lengthAdjust="spacingAndGlyphs">30</text>
<line x1="80.65" y1="708.50" x2="80.65" y2="710.50" stroke="#444444" stroke-width="0.9"/>
<text x="80.65" y="718.18" font-size="6.9" font-weight="bold" text-anchor="middle" fill="#000000" stroke="#000000" stroke-width="0.18" textLength="7.14" lengthAdjust="spacingAndGlyphs">45</text>
<line x1="97.95" y1="708.50" x2="97.95" y2="710.50" stroke="#444444" stroke-width="0.9"/>
<text x="97.95" y="718.18" font-size="6.9" font-weight="bold" text-anchor="middle" fill="#000000" stroke="#000000" stroke-width="0.18" textLength="7.14" lengthAdjust="spacingAndGlyphs">60</text>
<line x1="115.25" y1="708.50" x2="115.25" y2="710.50" stroke="#444444" stroke-width="0.9"/>
<text x="115.25" y="718.18" font-size="6.9" font-weight="bold" text-anchor="middle" fill="#000000" stroke="#000000" stroke-width="0.18" textLength="7.14" lengthAdjust="spacingAndGlyphs">75</text>
<line x1="132.55" y1="708.50" x2="132.55" y2="710.50" stroke="#444444" stroke-width="0.9"/>
<text x="132.55" y="718.18" font-size="6.9" font-weight="bold" text-anchor="middle" fill="#000000" stroke="#000000" stroke-width="0.18" textLength="7.14" lengthAdjust="spacingAndGlyphs">90</text>
<line x1="149.85" y1="708.50" x2="149.85" y2="710.50" stroke="#444444" stroke-width="0.9"/>
<text x="149.85" y="718.18" font-size="6.9" font-weight="bold" text-anchor="middle" fill="#000000" stroke="#000000" stroke-width="0.18" textLength="10.71" lengthAdjust="spacingAndGlyphs">105</text>
<line x1="167.15" y1="708.50" x2="167.15" y2="710.50" stroke="#444444" stroke-width="0.9"/>
<text x="167.15" y="718.18" font-size="6.9" font-weight="bold" text-anchor="middle" fill="#000000" stroke="#000000" stroke-width="0.18" textLength="10.71" lengthAdjust="spacingAndGlyphs">120</text>
<line x1="184.45" y1="708.50" x2="184.45" y2="710.50" stroke="#444444" stroke-width="0.9"/>
<text x="184.45" y="718.18" font-size="6.9" font-weight="bold" text-anchor="middle" fill="#000000" stroke="#000000" stroke-width="0.18" textLength="10.71" lengthAdjust="spacingAndGlyphs">135</text>
<line x1="201.75" y1="708.50" x2="201.75" y2="710.50" stroke="#444444" stroke-width="0.9"/>
<text x="201.75" y="718.18" font-size="6.9" font-weight="bold" text-anchor="middle" fill="#000000" stroke="#000000" stroke-width="0.18" textLength="10.71" lengthAdjust="spacingAndGlyphs">150</text>
<line x1="219.05" y1="708.50" x2="219.05" y2="710.50" stroke="#444444" stroke-width="0.9"/>
<text x="219.05" y="718.18" font-size="6.9" font-weight="bold" text-anchor="middle" fill="#000000" stroke="#000000" stroke-width="0.18" textLength="10.71" lengthAdjust="spacingAndGlyphs">165</text>
<line x1="236.35" y1="708.50" x2="236.35" y2="710.50" stroke="#444444" stroke-width="0.9"/>
<text x="236.35" y="718.18" font-size="6.9" font-weight="bold" text-anchor="middle" fill="#000000" stroke="#000000" stroke-width="0.18" textLength="10.71" lengthAdjust="spacingAndGlyphs">180</text>
<text x="115.20" y="729.12" font-size="7" font-weight="bold" text-anchor="start" fill="#000000" stroke="#000000" stroke-width="0.18" textLength="34.80" lengthAdjust="spacingAndGlyphs">TIME (min)</text>
<text transform="translate(12.75,677.85) rotate(-90)" x="0" y="0" font-size="6.75" font-weight="bold" text-anchor="middle" fill="#000000" stroke="#000000" stroke-width="0.18" textLength="72.30" lengthAdjust="spacingAndGlyphs">Delta glucose (mg/dL)</text>
<line x1="175.40" y1="629.50" x2="184.60" y2="629.50" stroke="#e6f7e6" stroke-width="3.2"/>
<line x1="176.20" y1="629.50" x2="183.80" y2="629.50" stroke="#38a040" stroke-width="1.2"/>
<line x1="176.20" y1="639.60" x2="183.80" y2="639.60" stroke="#111111" stroke-width="1.2"/>
<text x="186.90" y="631.91" font-size="7" font-weight="normal" text-anchor="start" fill="#000000" stroke="#000000" stroke-width="0.05" textLength="38.50" lengthAdjust="spacingAndGlyphs">Mankai mean</text>
<text x="186.90" y="642.01" font-size="7" font-weight="normal" text-anchor="start" fill="#000000" stroke="#000000" stroke-width="0.05" textLength="36.00" lengthAdjust="spacingAndGlyphs">Yogurt mean</text>
<polyline points="28.75,708.50 46.05,713.80 63.35,702.50 80.65,691.80 97.95,688.00 115.25,696.50 132.55,709.50 149.85,721.20 167.15,732.50 184.45,737.20 201.75,721.80 219.05,734.10 236.35,728.80" fill="none" stroke="#e6f7e6" stroke-width="2.4" stroke-linejoin="miter" stroke-miterlimit="3"/>
<polyline points="28.75,708.50 46.05,691.50 63.35,700.50 80.65,712.50 97.95,688.80 115.25,689.50 132.55,702.70 149.85,705.80 167.15,718.10 184.45,729.50 201.75,726.70 219.05,729.50 236.35,727.90" fill="none" stroke="#111111" stroke-width="1.25" stroke-linejoin="miter" stroke-miterlimit="3"/>
<polyline points="28.75,708.50 46.05,713.80 63.35,702.50 80.65,691.80 97.95,688.00 115.25,696.50 132.55,709.50 149.85,721.20 167.15,732.50 184.45,737.20 201.75,721.80 219.05,734.10 236.35,728.80" fill="none" stroke="#38a040" stroke-width="1.25" stroke-linejoin="miter" stroke-miterlimit="3"/>
<text x="369.20" y="601.91" font-size="7" font-weight="bold" text-anchor="start" fill="#000000" stroke="#000000" stroke-width="0.18" textLength="60.00" lengthAdjust="spacingAndGlyphs">Participant no. 10</text>
<line x1="284.50" y1="614.20" x2="284.50" y2="739.50" stroke="#666666" stroke-width="1.3"/>
<line x1="282.70" y1="614.30" x2="284.50" y2="614.30" stroke="#666666" stroke-width="0.9"/>
<text x="281.30" y="616.68" font-size="6.9" font-weight="bold" text-anchor="end" fill="#000000" stroke="#000000" stroke-width="0.18" textLength="7.44" lengthAdjust="spacingAndGlyphs">30</text>
<line x1="282.70" y1="629.85" x2="284.50" y2="629.85" stroke="#666666" stroke-width="0.9"/>
<text x="281.30" y="632.23" font-size="6.9" font-weight="bold" text-anchor="end" fill="#000000" stroke="#000000" stroke-width="0.18" textLength="7.44" lengthAdjust="spacingAndGlyphs">25</text>
<line x1="282.70" y1="645.40" x2="284.50" y2="645.40" stroke="#666666" stroke-width="0.9"/>
<text x="281.30" y="647.78" font-size="6.9" font-weight="bold" text-anchor="end" fill="#000000" stroke="#000000" stroke-width="0.18" textLength="7.44" lengthAdjust="spacingAndGlyphs">20</text>
<line x1="282.70" y1="660.95" x2="284.50" y2="660.95" stroke="#666666" stroke-width="0.9"/>
<text x="281.30" y="663.33" font-size="6.9" font-weight="bold" text-anchor="end" fill="#000000" stroke="#000000" stroke-width="0.18" textLength="7.44" lengthAdjust="spacingAndGlyphs">15</text>
<line x1="282.70" y1="676.50" x2="284.50" y2="676.50" stroke="#666666" stroke-width="0.9"/>
<text x="281.30" y="678.88" font-size="6.9" font-weight="bold" text-anchor="end" fill="#000000" stroke="#000000" stroke-width="0.18" textLength="7.44" lengthAdjust="spacingAndGlyphs">10</text>
<line x1="282.70" y1="692.05" x2="284.50" y2="692.05" stroke="#666666" stroke-width="0.9"/>
<text x="281.30" y="694.43" font-size="6.9" font-weight="bold" text-anchor="end" fill="#000000" stroke="#000000" stroke-width="0.18" textLength="3.72" lengthAdjust="spacingAndGlyphs">5</text>
<line x1="282.70" y1="707.60" x2="284.50" y2="707.60" stroke="#666666" stroke-width="0.9"/>
<text x="281.30" y="709.98" font-size="6.9" font-weight="bold" text-anchor="end" fill="#000000" stroke="#000000" stroke-width="0.18" textLength="3.72" lengthAdjust="spacingAndGlyphs">0</text>
<line x1="282.70" y1="723.15" x2="284.50" y2="723.15" stroke="#666666" stroke-width="0.9"/>
<text x="281.30" y="725.53" font-size="6.9" font-weight="bold" text-anchor="end" fill="#000000" stroke="#000000" stroke-width="0.18" textLength="5.95" lengthAdjust="spacingAndGlyphs">-5</text>
<line x1="282.70" y1="738.70" x2="284.50" y2="738.70" stroke="#666666" stroke-width="0.9"/>
<text x="281.30" y="741.08" font-size="6.9" font-weight="bold" text-anchor="end" fill="#000000" stroke="#000000" stroke-width="0.18" textLength="9.67" lengthAdjust="spacingAndGlyphs">-10</text>
<line x1="284.50" y1="707.60" x2="512.90" y2="707.60" stroke="#666666" stroke-width="1.3"/>
<line x1="303.50" y1="707.60" x2="303.50" y2="709.60" stroke="#666666" stroke-width="0.9"/>
<text x="303.50" y="717.88" font-size="6.9" font-weight="bold" text-anchor="middle" fill="#000000" stroke="#000000" stroke-width="0.18" textLength="7.44" lengthAdjust="spacingAndGlyphs">15</text>
<line x1="322.53" y1="707.60" x2="322.53" y2="709.60" stroke="#666666" stroke-width="0.9"/>
<text x="322.53" y="717.88" font-size="6.9" font-weight="bold" text-anchor="middle" fill="#000000" stroke="#000000" stroke-width="0.18" textLength="7.44" lengthAdjust="spacingAndGlyphs">30</text>
<line x1="341.56" y1="707.60" x2="341.56" y2="709.60" stroke="#666666" stroke-width="0.9"/>
<text x="341.56" y="717.88" font-size="6.9" font-weight="bold" text-anchor="middle" fill="#000000" stroke="#000000" stroke-width="0.18" textLength="7.44" lengthAdjust="spacingAndGlyphs">45</text>
<line x1="360.59" y1="707.60" x2="360.59" y2="709.60" stroke="#666666" stroke-width="0.9"/>
<text x="360.59" y="717.88" font-size="6.9" font-weight="bold" text-anchor="middle" fill="#000000" stroke="#000000" stroke-width="0.18" textLength="7.44" lengthAdjust="spacingAndGlyphs">60</text>
<line x1="379.62" y1="707.60" x2="379.62" y2="709.60" stroke="#666666" stroke-width="0.9"/>
<text x="379.62" y="717.88" font-size="6.9" font-weight="bold" text-anchor="middle" fill="#000000" stroke="#000000" stroke-width="0.18" textLength="7.44" lengthAdjust="spacingAndGlyphs">75</text>
<line x1="398.65" y1="707.60" x2="398.65" y2="709.60" stroke="#666666" stroke-width="0.9"/>
<text x="398.65" y="717.88" font-size="6.9" font-weight="bold" text-anchor="middle" fill="#000000" stroke="#000000" stroke-width="0.18" textLength="7.44" lengthAdjust="spacingAndGlyphs">90</text>
<line x1="417.68" y1="707.60" x2="417.68" y2="709.60" stroke="#666666" stroke-width="0.9"/>
<text x="417.68" y="717.88" font-size="6.9" font-weight="bold" text-anchor="middle" fill="#000000" stroke="#000000" stroke-width="0.18" textLength="11.17" lengthAdjust="spacingAndGlyphs">105</text>
<line x1="436.71" y1="707.60" x2="436.71" y2="709.60" stroke="#666666" stroke-width="0.9"/>
<text x="436.71" y="717.88" font-size="6.9" font-weight="bold" text-anchor="middle" fill="#000000" stroke="#000000" stroke-width="0.18" textLength="11.17" lengthAdjust="spacingAndGlyphs">120</text>
<line x1="455.74" y1="707.60" x2="455.74" y2="709.60" stroke="#666666" stroke-width="0.9"/>
<text x="455.74" y="717.88" font-size="6.9" font-weight="bold" text-anchor="middle" fill="#000000" stroke="#000000" stroke-width="0.18" textLength="11.17" lengthAdjust="spacingAndGlyphs">135</text>
<line x1="474.77" y1="707.60" x2="474.77" y2="709.60" stroke="#666666" stroke-width="0.9"/>
<text x="474.77" y="717.88" font-size="6.9" font-weight="bold" text-anchor="middle" fill="#000000" stroke="#000000" stroke-width="0.18" textLength="11.17" lengthAdjust="spacingAndGlyphs">150</text>
<line x1="493.80" y1="707.60" x2="493.80" y2="709.60" stroke="#666666" stroke-width="0.9"/>
<text x="493.80" y="717.88" font-size="6.9" font-weight="bold" text-anchor="middle" fill="#000000" stroke="#000000" stroke-width="0.18" textLength="11.17" lengthAdjust="spacingAndGlyphs">165</text>
<line x1="512.83" y1="707.60" x2="512.83" y2="709.60" stroke="#666666" stroke-width="0.9"/>
<text x="512.83" y="717.88" font-size="6.9" font-weight="bold" text-anchor="middle" fill="#000000" stroke="#000000" stroke-width="0.18" textLength="11.17" lengthAdjust="spacingAndGlyphs">180</text>
<text x="380.90" y="729.62" font-size="7" font-weight="bold" text-anchor="start" fill="#000000" stroke="#000000" stroke-width="0.18" textLength="36.60" lengthAdjust="spacingAndGlyphs">Time (min)</text>
<text transform="translate(267.65,675.15) rotate(-90)" x="0" y="0" font-size="6.75" font-weight="bold" text-anchor="middle" fill="#000000" stroke="#000000" stroke-width="0.18" textLength="76.90" lengthAdjust="spacingAndGlyphs">Delta glucose (mg/dL)</text>
<line x1="446.90" y1="626.50" x2="456.80" y2="626.50" stroke="#e6f7e6" stroke-width="3.2"/>
<line x1="447.70" y1="626.50" x2="456.00" y2="626.50" stroke="#38a040" stroke-width="1.2"/>
<line x1="447.70" y1="637.30" x2="456.00" y2="637.30" stroke="#111111" stroke-width="1.2"/>
<text x="460.00" y="628.91" font-size="7" font-weight="normal" text-anchor="start" fill="#000000" stroke="#000000" stroke-width="0.05" textLength="43.10" lengthAdjust="spacingAndGlyphs">Mankai mean</text>
<text x="460.00" y="639.71" font-size="7" font-weight="normal" text-anchor="start" fill="#000000" stroke="#000000" stroke-width="0.05" textLength="40.60" lengthAdjust="spacingAndGlyphs">Yogurt mean</text>
<polyline points="284.50,707.60 303.53,714.30 322.56,707.00 341.59,694.10 360.62,687.40 379.65,686.10 398.68,687.00 417.71,688.60 436.74,675.70 455.77,682.40 474.80,717.80 493.83,729.50 512.86,730.70" fill="none" stroke="#e6f7e6" stroke-width="2.4" stroke-linejoin="miter" stroke-miterlimit="3"/>
<polyline points="284.50,707.60 303.53,711.90 322.56,696.80 341.59,682.80 360.62,681.70 379.65,687.00 398.68,693.20 417.71,696.90 436.74,702.40 455.77,707.00 474.80,708.60 493.83,715.30 512.86,716.30" fill="none" stroke="#111111" stroke-width="1.25" stroke-linejoin="miter" stroke-miterlimit="3"/>
<polyline points="284.50,707.60 303.53,714.30 322.56,707.00 341.59,694.10 360.62,687.40 379.65,686.10 398.68,687.00 417.71,688.60 436.74,675.70 455.77,682.40 474.80,717.80 493.83,729.50 512.86,730.70" fill="none" stroke="#38a040" stroke-width="1.25" stroke-linejoin="miter" stroke-miterlimit="3"/>
</g>
</svg>
</body></html>
